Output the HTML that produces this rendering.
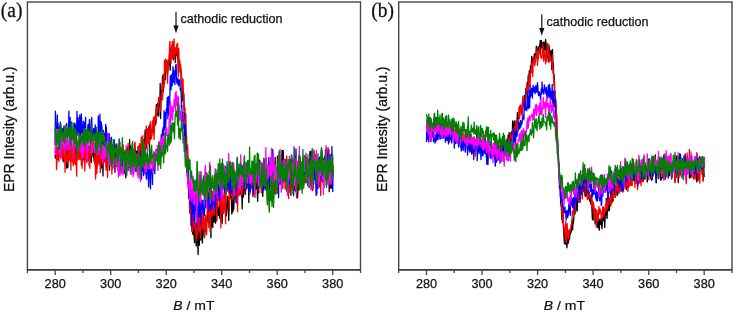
<!DOCTYPE html>
<html><head><meta charset="utf-8"><title>EPR</title>
<style>
html,body{margin:0;padding:0;background:#fff;}
svg{display:block}
text{stroke:#111;stroke-width:0.25px}
.t{font-family:"Liberation Sans",sans-serif;font-size:12.7px;fill:#111}
.an{font-family:"Liberation Sans",sans-serif;font-size:12.55px;fill:#111}
.yl{font-family:"Liberation Sans",sans-serif;font-size:13.95px;fill:#111}
.pl{font-family:"Liberation Serif",serif;font-size:19.5px;fill:#111}
</style></head><body>
<svg width="734" height="312" viewBox="0 0 734 312">
<rect width="734" height="312" fill="#fff"/>
<g>
<polyline fill="none" stroke="#000000" stroke-width="1.3" stroke-linejoin="round" points="55.0,154.6 55.4,158.2 55.8,154.5 56.2,142.2 56.5,158.8 56.9,155.4 57.3,148.0 57.7,156.4 58.1,154.8 58.5,154.2 58.9,152.3 59.3,156.1 59.6,146.5 60.0,150.8 60.4,148.5 60.8,156.6 61.2,152.4 61.6,149.9 62.0,146.3 62.3,150.2 62.7,152.2 63.1,150.1 63.5,161.9 63.9,159.7 64.3,133.5 64.7,138.1 65.1,150.9 65.4,149.1 65.8,153.9 66.2,153.9 66.6,168.2 67.0,144.0 67.4,149.5 67.8,167.7 68.2,157.3 68.5,157.4 68.9,148.6 69.3,140.1 69.7,153.8 70.1,153.3 70.5,143.3 70.9,147.5 71.2,152.1 71.6,145.5 72.0,151.9 72.4,153.4 72.8,153.0 73.2,148.9 73.6,157.2 74.0,159.5 74.3,155.2 74.7,146.7 75.1,158.4 75.5,149.2 75.9,159.6 76.3,145.0 76.7,159.9 77.0,152.9 77.4,143.7 77.8,150.8 78.2,153.6 78.6,155.2 79.0,145.9 79.4,145.0 79.8,154.8 80.1,149.8 80.5,155.1 80.9,159.1 81.3,141.1 81.7,155.4 82.1,162.7 82.5,151.3 82.8,147.5 83.2,159.3 83.6,155.6 84.0,160.5 84.4,151.2 84.8,142.7 85.2,153.0 85.6,150.6 85.9,159.8 86.3,155.4 86.7,141.8 87.1,145.1 87.5,160.7 87.9,159.3 88.3,149.4 88.7,154.2 89.0,157.6 89.4,157.8 89.8,161.0 90.2,156.3 90.6,153.8 91.0,152.6 91.4,162.5 91.7,137.7 92.1,153.6 92.5,154.9 92.9,144.1 93.3,157.3 93.7,150.0 94.1,161.4 94.5,154.0 94.8,160.0 95.2,164.2 95.6,158.0 96.0,148.6 96.4,143.9 96.8,168.4 97.2,154.5 97.5,150.3 97.9,156.6 98.3,154.2 98.7,162.1 99.1,156.1 99.5,156.1 99.9,150.7 100.3,159.7 100.6,148.6 101.0,161.4 101.4,168.0 101.8,145.3 102.2,138.3 102.6,161.6 103.0,175.9 103.3,149.7 103.7,148.0 104.1,161.9 104.5,151.3 104.9,154.0 105.3,155.3 105.7,162.0 106.1,155.1 106.4,160.4 106.8,157.1 107.2,152.2 107.6,156.3 108.0,151.7 108.4,158.9 108.8,150.6 109.2,150.9 109.5,170.1 109.9,158.9 110.3,159.0 110.7,163.3 111.1,156.4 111.5,157.9 111.9,162.9 112.2,161.9 112.6,151.1 113.0,166.1 113.4,155.5 113.8,152.0 114.2,153.2 114.6,157.1 115.0,172.2 115.3,151.2 115.7,161.2 116.1,144.0 116.5,160.0 116.9,166.7 117.3,158.2 117.7,155.2 118.0,161.7 118.4,165.2 118.8,164.9 119.2,174.7 119.6,161.4 120.0,155.4 120.4,158.8 120.8,159.2 121.1,160.5 121.5,159.4 121.9,160.9 122.3,147.0 122.7,165.8 123.1,155.2 123.5,150.6 123.8,164.2 124.2,169.2 124.6,163.0 125.0,160.4 125.4,152.2 125.8,177.8 126.2,165.6 126.6,150.4 126.9,153.0 127.3,159.5 127.7,147.1 128.1,159.9 128.5,155.1 128.9,167.7 129.3,165.6 129.6,139.6 130.0,158.6 130.4,146.0 130.8,166.4 131.2,159.3 131.6,162.0 132.0,149.8 132.4,171.4 132.7,172.8 133.1,149.5 133.5,160.2 133.9,152.3 134.3,157.0 134.7,147.6 135.1,171.0 135.5,149.6 135.8,154.5 136.2,160.2 136.6,151.4 137.0,154.2 137.4,151.5 137.8,154.4 138.2,146.2 138.5,151.3 138.9,152.7 139.3,151.3 139.7,153.8 140.1,150.7 140.5,158.0 140.9,149.4 141.3,150.3 141.6,145.8 142.0,146.3 142.4,140.1 142.8,152.9 143.2,139.8 143.6,142.2 144.0,149.8 144.3,149.5 144.7,142.8 145.1,130.0 145.5,147.6 145.9,145.7 146.3,132.5 146.7,148.2 147.1,136.5 147.4,132.6 147.8,141.0 148.2,138.3 148.6,140.4 149.0,126.1 149.4,150.9 149.8,132.0 150.1,124.1 150.5,139.4 150.9,131.1 151.3,135.3 151.7,129.3 152.1,130.4 152.5,131.6 152.9,123.1 153.2,132.7 153.6,123.0 154.0,118.8 154.4,124.8 154.8,126.3 155.2,120.0 155.6,114.0 156.0,123.8 156.3,104.7 156.7,108.8 157.1,115.5 157.5,103.6 157.9,112.6 158.3,110.6 158.7,116.1 159.0,100.8 159.4,101.1 159.8,106.4 160.2,83.5 160.6,118.6 161.0,92.5 161.4,90.2 161.8,100.0 162.1,91.1 162.5,76.0 162.9,92.0 163.3,91.7 163.7,80.1 164.1,79.6 164.5,83.6 164.8,71.3 165.2,79.7 165.6,76.2 166.0,67.9 166.4,60.9 166.8,68.0 167.2,61.5 167.6,74.0 167.9,66.1 168.3,69.4 168.7,63.2 169.1,62.9 169.5,53.7 169.9,63.2 170.3,70.1 170.6,53.0 171.0,49.6 171.4,51.5 171.8,48.0 172.2,45.3 172.6,50.9 173.0,47.1 173.4,59.8 173.7,49.1 174.1,51.8 174.5,57.1 174.9,48.5 175.3,62.5 175.7,48.1 176.1,48.0 176.5,52.6 176.8,55.8 177.2,47.5 177.6,59.1 178.0,48.4 178.4,73.0 178.8,63.8 179.2,61.7 179.5,61.9 179.9,68.1 180.3,71.8 180.7,68.2 181.1,71.7 181.5,80.1 181.9,80.7 182.3,95.0 182.6,100.1 183.0,95.5 183.4,103.0 183.8,93.7 184.2,113.0 184.6,113.0 185.0,122.4 185.3,136.8 185.7,113.7 186.1,139.4 186.5,135.4 186.9,155.4 187.3,146.5 187.7,159.5 188.1,171.6 188.4,181.9 188.8,184.4 189.2,183.7 189.6,192.9 190.0,213.2 190.4,210.3 190.8,197.9 191.1,225.7 191.5,223.7 191.9,230.5 192.3,220.3 192.7,234.0 193.1,216.6 193.5,234.6 193.9,225.3 194.2,238.3 194.6,242.6 195.0,225.7 195.4,233.2 195.8,234.4 196.2,246.0 196.6,241.1 197.0,221.4 197.3,238.2 197.7,240.9 198.1,254.5 198.5,215.7 198.9,226.8 199.3,245.3 199.7,217.6 200.0,218.7 200.4,235.5 200.8,240.1 201.2,222.4 201.6,234.1 202.0,229.3 202.4,242.9 202.8,226.9 203.1,236.4 203.5,216.7 203.9,223.4 204.3,223.8 204.7,235.9 205.1,229.8 205.5,215.9 205.8,230.0 206.2,230.5 206.6,221.1 207.0,219.2 207.4,219.4 207.8,203.8 208.2,222.5 208.6,222.5 208.9,210.9 209.3,226.8 209.7,205.0 210.1,212.9 210.5,213.2 210.9,237.7 211.3,201.0 211.6,222.4 212.0,225.9 212.4,219.7 212.8,227.5 213.2,204.9 213.6,191.6 214.0,222.0 214.4,201.7 214.7,210.1 215.1,201.1 215.5,223.2 215.9,220.9 216.3,204.5 216.7,220.5 217.1,212.2 217.5,209.1 217.8,210.7 218.2,207.7 218.6,215.6 219.0,212.1 219.4,205.0 219.8,218.3 220.2,201.5 220.5,210.3 220.9,211.2 221.3,221.5 221.7,201.1 222.1,223.5 222.5,207.2 222.9,203.1 223.3,197.9 223.6,210.2 224.0,204.4 224.4,192.4 224.8,191.8 225.2,197.2 225.6,195.6 226.0,213.1 226.3,215.6 226.7,210.1 227.1,204.6 227.5,196.3 227.9,200.7 228.3,208.7 228.7,220.6 229.1,208.1 229.4,195.9 229.8,198.6 230.2,193.1 230.6,189.8 231.0,195.3 231.4,198.6 231.8,214.0 232.1,196.4 232.5,208.5 232.9,211.9 233.3,195.5 233.7,209.5 234.1,200.7 234.5,189.7 234.9,195.7 235.2,193.0 235.6,190.3 236.0,190.2 236.4,193.0 236.8,195.3 237.2,182.9 237.6,190.5 238.0,176.4 238.3,192.2 238.7,195.1 239.1,190.6 239.5,191.4 239.9,193.8 240.3,182.1 240.7,185.6 241.0,192.1 241.4,196.2 241.8,190.4 242.2,209.1 242.6,185.4 243.0,195.0 243.4,197.1 243.8,184.2 244.1,177.7 244.5,174.1 244.9,186.0 245.3,194.4 245.7,186.5 246.1,185.4 246.5,180.2 246.8,188.5 247.2,163.7 247.6,185.1 248.0,183.1 248.4,170.1 248.8,202.4 249.2,169.6 249.6,172.3 249.9,171.0 250.3,192.1 250.7,173.6 251.1,187.8 251.5,186.9 251.9,183.8 252.3,169.1 252.6,175.4 253.0,196.6 253.4,168.9 253.8,173.0 254.2,179.1 254.6,188.1 255.0,182.8 255.4,187.3 255.7,170.1 256.1,189.0 256.5,185.3 256.9,164.8 257.3,194.3 257.7,201.3 258.1,172.2 258.5,179.9 258.8,192.6 259.2,165.1 259.6,160.1 260.0,166.6 260.4,173.5 260.8,173.2 261.2,184.5 261.5,181.2 261.9,166.5 262.3,183.9 262.7,196.4 263.1,189.8 263.5,187.7 263.9,178.2 264.3,187.4 264.6,168.5 265.0,185.0 265.4,176.8 265.8,188.5 266.2,182.0 266.6,166.8 267.0,178.6 267.3,189.1 267.7,166.1 268.1,171.6 268.5,169.5 268.9,162.3 269.3,186.2 269.7,189.5 270.1,184.5 270.4,179.0 270.8,176.0 271.2,178.8 271.6,169.2 272.0,185.0 272.4,186.4 272.8,185.3 273.1,170.9 273.5,176.8 273.9,174.3 274.3,193.3 274.7,177.6 275.1,157.4 275.5,179.6 275.9,194.0 276.2,182.3 276.6,184.1 277.0,175.8 277.4,156.2 277.8,157.7 278.2,163.1 278.6,174.0 278.9,178.2 279.3,181.9 279.7,171.8 280.1,184.4 280.5,172.2 280.9,168.1 281.3,183.2 281.7,165.9 282.0,150.4 282.4,164.4 282.8,175.6 283.2,150.3 283.6,171.1 284.0,171.3 284.4,160.6 284.8,160.0 285.1,169.9 285.5,169.1 285.9,186.6 286.3,178.0 286.7,158.9 287.1,165.9 287.5,181.1 287.8,192.7 288.2,177.9 288.6,177.1 289.0,192.2 289.4,173.8 289.8,171.0 290.2,160.2 290.6,169.0 290.9,195.2 291.3,160.0 291.7,174.0 292.1,160.1 292.5,175.1 292.9,182.4 293.3,171.4 293.6,180.8 294.0,180.7 294.4,178.0 294.8,190.4 295.2,181.2 295.6,170.6 296.0,166.9 296.4,165.3 296.7,178.1 297.1,170.3 297.5,197.8 297.9,191.4 298.3,171.3 298.7,170.2 299.1,189.8 299.4,155.0 299.8,168.9 300.2,182.5 300.6,164.3 301.0,168.6 301.4,169.8 301.8,179.6 302.2,174.5 302.5,177.0 302.9,178.9 303.3,173.4 303.7,183.9 304.1,165.9 304.5,159.0 304.9,155.6 305.3,157.1 305.6,167.6 306.0,182.9 306.4,174.6 306.8,167.0 307.2,162.4 307.6,167.6 308.0,168.8 308.3,167.3 308.7,158.8 309.1,168.1 309.5,182.6 309.9,151.5 310.3,170.3 310.7,152.0 311.1,174.4 311.4,165.3 311.8,152.2 312.2,173.5 312.6,190.3 313.0,173.6 313.4,183.8 313.8,171.8 314.1,151.4 314.5,177.2 314.9,168.4 315.3,158.2 315.7,180.0 316.1,175.2 316.5,167.2 316.9,180.8 317.2,163.8 317.6,178.6 318.0,163.1 318.4,177.5 318.8,161.5 319.2,186.8 319.6,174.7 319.9,186.2 320.3,164.2 320.7,167.6 321.1,180.4 321.5,147.8 321.9,161.8 322.3,182.2 322.7,176.7 323.0,181.7 323.4,169.1 323.8,177.6 324.2,165.0 324.6,158.7 325.0,155.6 325.4,166.7 325.8,166.7 326.1,165.9 326.5,147.7 326.9,152.6 327.3,166.9 327.7,174.8 328.1,166.4 328.5,163.5 328.8,149.5 329.2,191.7 329.6,161.3 330.0,188.4 330.4,187.2 330.8,174.7 331.2,166.4 331.6,173.3 331.9,160.8 332.3,174.5 332.7,172.0 333.1,177.2"/>
<polyline fill="none" stroke="#ff0000" stroke-width="1.3" stroke-linejoin="round" points="55.0,153.8 55.4,146.9 55.8,148.0 56.2,128.2 56.5,169.6 56.9,163.2 57.3,148.8 57.7,159.6 58.1,154.8 58.5,146.6 58.9,161.6 59.3,149.0 59.6,148.8 60.0,144.3 60.4,156.5 60.8,151.1 61.2,157.4 61.6,146.2 62.0,153.4 62.3,143.4 62.7,160.3 63.1,154.0 63.5,155.4 63.9,156.2 64.3,142.4 64.7,159.9 65.1,172.3 65.4,136.3 65.8,135.4 66.2,137.6 66.6,160.5 67.0,153.6 67.4,162.9 67.8,159.4 68.2,154.5 68.5,155.2 68.9,150.8 69.3,160.9 69.7,141.5 70.1,148.4 70.5,154.9 70.9,170.1 71.2,145.1 71.6,142.1 72.0,147.2 72.4,162.1 72.8,150.4 73.2,165.7 73.6,134.5 74.0,163.8 74.3,162.9 74.7,139.0 75.1,154.4 75.5,164.8 75.9,153.8 76.3,162.7 76.7,176.2 77.0,155.7 77.4,150.4 77.8,145.6 78.2,159.5 78.6,151.3 79.0,151.5 79.4,152.2 79.8,159.6 80.1,142.9 80.5,138.5 80.9,129.7 81.3,165.1 81.7,154.2 82.1,168.3 82.5,153.5 82.8,146.4 83.2,158.3 83.6,152.9 84.0,141.5 84.4,145.1 84.8,171.0 85.2,157.3 85.6,158.0 85.9,151.2 86.3,147.3 86.7,162.7 87.1,153.1 87.5,146.7 87.9,152.9 88.3,145.4 88.7,156.1 89.0,165.3 89.4,146.2 89.8,168.3 90.2,147.9 90.6,156.0 91.0,146.4 91.4,152.4 91.7,155.1 92.1,150.4 92.5,147.8 92.9,148.1 93.3,146.8 93.7,139.5 94.1,152.3 94.5,158.8 94.8,163.8 95.2,161.3 95.6,179.0 96.0,158.3 96.4,150.8 96.8,173.5 97.2,145.2 97.5,164.9 97.9,146.2 98.3,159.1 98.7,136.6 99.1,164.6 99.5,154.4 99.9,146.7 100.3,172.6 100.6,163.8 101.0,156.9 101.4,149.3 101.8,156.3 102.2,155.2 102.6,164.0 103.0,164.8 103.3,150.8 103.7,152.1 104.1,152.4 104.5,144.9 104.9,152.2 105.3,157.0 105.7,164.5 106.1,170.4 106.4,150.9 106.8,163.5 107.2,154.5 107.6,177.4 108.0,158.3 108.4,163.4 108.8,150.7 109.2,152.0 109.5,161.0 109.9,156.0 110.3,162.4 110.7,146.2 111.1,165.2 111.5,152.1 111.9,174.0 112.2,157.4 112.6,168.8 113.0,148.5 113.4,163.4 113.8,152.8 114.2,156.1 114.6,160.2 115.0,157.5 115.3,162.1 115.7,165.8 116.1,165.0 116.5,159.3 116.9,149.5 117.3,153.8 117.7,158.5 118.0,143.9 118.4,165.6 118.8,158.1 119.2,158.0 119.6,166.9 120.0,164.8 120.4,161.4 120.8,152.2 121.1,162.0 121.5,162.3 121.9,153.0 122.3,167.4 122.7,163.3 123.1,144.7 123.5,160.3 123.8,149.9 124.2,167.8 124.6,165.3 125.0,150.9 125.4,152.5 125.8,159.9 126.2,157.2 126.6,170.4 126.9,164.4 127.3,156.7 127.7,163.1 128.1,143.4 128.5,160.9 128.9,165.0 129.3,157.1 129.6,153.0 130.0,162.5 130.4,172.9 130.8,159.6 131.2,149.6 131.6,168.7 132.0,143.7 132.4,161.5 132.7,153.2 133.1,164.5 133.5,151.0 133.9,167.2 134.3,159.5 134.7,144.1 135.1,142.2 135.5,154.5 135.8,166.4 136.2,157.4 136.6,156.7 137.0,154.2 137.4,161.2 137.8,158.2 138.2,157.1 138.5,147.2 138.9,163.1 139.3,164.0 139.7,143.6 140.1,170.1 140.5,157.8 140.9,148.2 141.3,137.0 141.6,155.7 142.0,154.4 142.4,145.2 142.8,135.6 143.2,156.8 143.6,143.4 144.0,143.6 144.3,165.2 144.7,161.8 145.1,152.3 145.5,141.1 145.9,148.7 146.3,126.0 146.7,143.2 147.1,136.0 147.4,131.4 147.8,128.4 148.2,143.5 148.6,139.5 149.0,139.3 149.4,143.6 149.8,130.1 150.1,126.4 150.5,121.4 150.9,131.3 151.3,138.6 151.7,130.8 152.1,135.7 152.5,121.0 152.9,125.3 153.2,122.0 153.6,117.2 154.0,139.4 154.4,130.6 154.8,117.3 155.2,116.1 155.6,120.1 156.0,108.4 156.3,121.2 156.7,106.9 157.1,112.5 157.5,106.2 157.9,108.8 158.3,101.0 158.7,97.5 159.0,100.3 159.4,100.6 159.8,101.5 160.2,102.2 160.6,111.0 161.0,103.5 161.4,93.3 161.8,98.4 162.1,85.6 162.5,99.5 162.9,90.7 163.3,74.3 163.7,88.2 164.1,86.8 164.5,60.1 164.8,71.4 165.2,71.6 165.6,58.8 166.0,63.5 166.4,62.6 166.8,71.7 167.2,68.5 167.6,83.3 167.9,60.0 168.3,70.1 168.7,60.6 169.1,60.7 169.5,48.5 169.9,41.4 170.3,48.5 170.6,58.5 171.0,63.2 171.4,54.5 171.8,52.5 172.2,41.4 172.6,58.4 173.0,56.4 173.4,42.0 173.7,45.7 174.1,38.9 174.5,57.9 174.9,50.8 175.3,48.0 175.7,52.9 176.1,54.3 176.5,49.2 176.8,44.4 177.2,45.4 177.6,43.4 178.0,61.3 178.4,76.2 178.8,48.7 179.2,64.5 179.5,68.8 179.9,60.6 180.3,72.0 180.7,64.8 181.1,84.7 181.5,74.1 181.9,82.4 182.3,90.1 182.6,85.4 183.0,79.0 183.4,92.5 183.8,106.4 184.2,104.6 184.6,111.9 185.0,107.6 185.3,122.6 185.7,133.1 186.1,134.2 186.5,155.3 186.9,145.3 187.3,144.9 187.7,146.2 188.1,175.7 188.4,171.9 188.8,188.7 189.2,191.1 189.6,209.3 190.0,212.6 190.4,202.3 190.8,213.0 191.1,223.7 191.5,202.6 191.9,231.8 192.3,231.4 192.7,230.9 193.1,220.5 193.5,227.1 193.9,214.1 194.2,227.1 194.6,221.5 195.0,229.1 195.4,223.7 195.8,231.8 196.2,240.9 196.6,215.7 197.0,238.2 197.3,208.4 197.7,206.4 198.1,226.8 198.5,227.7 198.9,231.7 199.3,210.1 199.7,225.7 200.0,227.1 200.4,238.0 200.8,223.7 201.2,229.5 201.6,213.7 202.0,221.1 202.4,218.0 202.8,229.0 203.1,211.3 203.5,212.4 203.9,226.1 204.3,237.9 204.7,223.2 205.1,222.0 205.5,215.0 205.8,229.1 206.2,223.2 206.6,234.8 207.0,220.2 207.4,206.8 207.8,210.3 208.2,205.6 208.6,202.5 208.9,227.6 209.3,222.6 209.7,201.4 210.1,231.6 210.5,215.6 210.9,203.0 211.3,216.2 211.6,211.2 212.0,203.7 212.4,191.4 212.8,211.0 213.2,213.2 213.6,184.5 214.0,215.1 214.4,215.3 214.7,203.9 215.1,209.4 215.5,205.0 215.9,199.0 216.3,203.4 216.7,220.4 217.1,191.6 217.5,208.3 217.8,207.4 218.2,198.0 218.6,200.3 219.0,190.2 219.4,195.4 219.8,203.8 220.2,206.6 220.5,193.8 220.9,227.9 221.3,196.4 221.7,203.1 222.1,199.2 222.5,197.1 222.9,214.0 223.3,195.6 223.6,213.6 224.0,211.4 224.4,188.9 224.8,209.6 225.2,192.3 225.6,223.8 226.0,194.3 226.3,188.4 226.7,178.3 227.1,184.2 227.5,191.1 227.9,186.6 228.3,184.0 228.7,189.1 229.1,193.6 229.4,209.7 229.8,178.2 230.2,189.3 230.6,185.1 231.0,179.3 231.4,181.5 231.8,184.7 232.1,200.0 232.5,191.0 232.9,187.4 233.3,198.0 233.7,194.5 234.1,189.5 234.5,194.9 234.9,183.3 235.2,196.5 235.6,194.7 236.0,186.3 236.4,178.6 236.8,203.4 237.2,190.1 237.6,211.6 238.0,182.7 238.3,196.1 238.7,184.2 239.1,190.1 239.5,195.0 239.9,180.1 240.3,186.1 240.7,188.2 241.0,187.5 241.4,191.6 241.8,195.2 242.2,193.3 242.6,187.9 243.0,182.2 243.4,174.9 243.8,178.2 244.1,179.8 244.5,190.6 244.9,180.9 245.3,172.7 245.7,189.5 246.1,176.3 246.5,176.5 246.8,181.2 247.2,187.4 247.6,160.9 248.0,172.5 248.4,184.2 248.8,179.1 249.2,174.4 249.6,177.2 249.9,194.8 250.3,177.7 250.7,188.3 251.1,189.0 251.5,177.4 251.9,185.5 252.3,177.1 252.6,175.5 253.0,170.6 253.4,189.1 253.8,177.1 254.2,175.5 254.6,170.0 255.0,197.4 255.4,187.3 255.7,179.0 256.1,173.6 256.5,165.6 256.9,182.7 257.3,182.5 257.7,166.4 258.1,190.6 258.5,186.9 258.8,170.2 259.2,174.0 259.6,175.1 260.0,180.6 260.4,177.6 260.8,163.2 261.2,192.9 261.5,181.7 261.9,190.7 262.3,190.6 262.7,176.4 263.1,181.6 263.5,185.3 263.9,185.6 264.3,176.4 264.6,171.9 265.0,178.2 265.4,170.0 265.8,172.3 266.2,157.8 266.6,178.3 267.0,167.4 267.3,171.9 267.7,176.7 268.1,180.2 268.5,195.5 268.9,179.0 269.3,163.1 269.7,178.1 270.1,170.9 270.4,180.6 270.8,169.9 271.2,169.6 271.6,171.5 272.0,170.3 272.4,158.5 272.8,169.7 273.1,176.0 273.5,187.8 273.9,173.2 274.3,172.3 274.7,181.5 275.1,181.1 275.5,191.4 275.9,181.4 276.2,175.4 276.6,188.6 277.0,190.4 277.4,170.8 277.8,176.9 278.2,158.9 278.6,171.7 278.9,166.6 279.3,173.1 279.7,170.4 280.1,173.4 280.5,174.0 280.9,179.8 281.3,177.2 281.7,169.4 282.0,162.2 282.4,186.8 282.8,188.5 283.2,170.2 283.6,180.1 284.0,159.7 284.4,159.3 284.8,171.9 285.1,188.8 285.5,164.2 285.9,166.2 286.3,190.0 286.7,155.8 287.1,180.5 287.5,179.0 287.8,172.2 288.2,176.0 288.6,198.5 289.0,163.1 289.4,171.0 289.8,171.7 290.2,167.3 290.6,160.9 290.9,189.5 291.3,176.0 291.7,156.7 292.1,167.0 292.5,177.8 292.9,177.7 293.3,159.7 293.6,172.8 294.0,176.2 294.4,177.5 294.8,177.5 295.2,155.8 295.6,191.6 296.0,175.6 296.4,191.1 296.7,197.9 297.1,171.9 297.5,161.4 297.9,181.8 298.3,171.6 298.7,169.0 299.1,163.3 299.4,189.8 299.8,169.0 300.2,159.6 300.6,168.9 301.0,161.9 301.4,174.7 301.8,169.1 302.2,162.8 302.5,179.0 302.9,166.8 303.3,180.1 303.7,185.3 304.1,169.5 304.5,166.7 304.9,174.9 305.3,181.6 305.6,172.9 306.0,174.3 306.4,172.6 306.8,175.9 307.2,179.0 307.6,165.9 308.0,168.1 308.3,173.2 308.7,166.2 309.1,174.0 309.5,177.9 309.9,172.5 310.3,166.8 310.7,165.1 311.1,189.7 311.4,181.2 311.8,161.7 312.2,164.4 312.6,190.8 313.0,187.3 313.4,173.8 313.8,183.8 314.1,158.0 314.5,172.5 314.9,179.7 315.3,154.3 315.7,164.8 316.1,180.0 316.5,183.4 316.9,166.6 317.2,175.2 317.6,187.9 318.0,168.6 318.4,159.3 318.8,171.7 319.2,168.4 319.6,184.9 319.9,173.8 320.3,164.4 320.7,195.6 321.1,167.3 321.5,176.8 321.9,178.8 322.3,179.8 322.7,173.8 323.0,177.9 323.4,171.5 323.8,158.3 324.2,170.0 324.6,170.2 325.0,170.4 325.4,173.4 325.8,166.0 326.1,185.0 326.5,187.3 326.9,150.6 327.3,172.1 327.7,165.1 328.1,147.7 328.5,176.0 328.8,166.0 329.2,168.4 329.6,165.7 330.0,182.6 330.4,184.1 330.8,174.7 331.2,178.8 331.6,170.9 331.9,173.4 332.3,164.8 332.7,172.3 333.1,165.0"/>
<polyline fill="none" stroke="#0000ff" stroke-width="1.3" stroke-linejoin="round" points="55.0,145.3 55.4,111.2 55.8,133.1 56.2,125.7 56.5,126.6 56.9,128.4 57.3,114.9 57.7,128.3 58.1,123.5 58.5,148.8 58.9,131.7 59.3,127.4 59.6,127.9 60.0,125.0 60.4,122.1 60.8,127.1 61.2,133.6 61.6,128.2 62.0,137.2 62.3,128.5 62.7,130.2 63.1,141.6 63.5,134.1 63.9,126.2 64.3,128.6 64.7,134.1 65.1,144.5 65.4,128.0 65.8,128.2 66.2,137.5 66.6,123.4 67.0,127.8 67.4,136.6 67.8,134.4 68.2,130.7 68.5,135.0 68.9,111.2 69.3,137.7 69.7,122.8 70.1,117.5 70.5,132.1 70.9,135.3 71.2,126.7 71.6,121.9 72.0,130.2 72.4,129.6 72.8,140.5 73.2,135.6 73.6,131.5 74.0,138.3 74.3,128.5 74.7,123.1 75.1,134.4 75.5,134.4 75.9,128.4 76.3,124.1 76.7,131.7 77.0,111.3 77.4,135.2 77.8,133.7 78.2,117.7 78.6,130.5 79.0,122.8 79.4,135.7 79.8,114.8 80.1,123.2 80.5,135.4 80.9,138.7 81.3,113.9 81.7,126.3 82.1,132.5 82.5,125.5 82.8,142.0 83.2,121.2 83.6,132.8 84.0,122.3 84.4,140.7 84.8,130.0 85.2,127.4 85.6,117.3 85.9,142.8 86.3,135.9 86.7,135.9 87.1,138.8 87.5,132.9 87.9,125.5 88.3,124.3 88.7,124.3 89.0,140.6 89.4,119.4 89.8,125.9 90.2,128.0 90.6,132.1 91.0,134.8 91.4,121.1 91.7,117.5 92.1,130.5 92.5,139.7 92.9,136.3 93.3,132.3 93.7,128.3 94.1,132.9 94.5,128.9 94.8,136.9 95.2,124.8 95.6,131.8 96.0,130.0 96.4,135.0 96.8,132.6 97.2,149.7 97.5,142.3 97.9,142.3 98.3,115.8 98.7,128.6 99.1,126.6 99.5,135.2 99.9,114.2 100.3,140.1 100.6,139.4 101.0,121.7 101.4,124.1 101.8,125.5 102.2,131.9 102.6,136.4 103.0,147.1 103.3,130.3 103.7,137.6 104.1,133.0 104.5,145.1 104.9,137.5 105.3,142.4 105.7,124.3 106.1,131.4 106.4,127.4 106.8,145.5 107.2,140.1 107.6,133.8 108.0,133.8 108.4,141.9 108.8,134.2 109.2,133.7 109.5,145.5 109.9,161.5 110.3,142.4 110.7,141.2 111.1,137.6 111.5,137.3 111.9,152.1 112.2,155.3 112.6,149.6 113.0,152.5 113.4,151.3 113.8,151.8 114.2,139.6 114.6,148.0 115.0,152.6 115.3,146.2 115.7,148.8 116.1,146.5 116.5,150.4 116.9,159.5 117.3,150.4 117.7,152.5 118.0,160.0 118.4,159.0 118.8,167.0 119.2,138.9 119.6,161.2 120.0,151.3 120.4,156.2 120.8,161.6 121.1,163.6 121.5,163.5 121.9,157.0 122.3,168.1 122.7,154.1 123.1,155.3 123.5,162.5 123.8,152.5 124.2,173.0 124.6,164.6 125.0,173.5 125.4,157.1 125.8,154.6 126.2,158.8 126.6,163.3 126.9,153.5 127.3,160.9 127.7,158.1 128.1,170.5 128.5,153.6 128.9,166.5 129.3,154.0 129.6,151.8 130.0,153.9 130.4,150.5 130.8,160.7 131.2,167.5 131.6,161.2 132.0,164.8 132.4,172.6 132.7,162.6 133.1,162.3 133.5,159.0 133.9,149.2 134.3,167.2 134.7,148.6 135.1,166.9 135.5,162.2 135.8,171.1 136.2,162.5 136.6,157.2 137.0,166.5 137.4,160.0 137.8,163.3 138.2,165.4 138.5,164.5 138.9,164.6 139.3,160.2 139.7,165.5 140.1,151.4 140.5,166.7 140.9,159.4 141.3,177.2 141.6,178.8 142.0,155.1 142.4,171.3 142.8,169.7 143.2,163.2 143.6,175.5 144.0,168.4 144.3,159.0 144.7,170.5 145.1,171.7 145.5,173.9 145.9,164.1 146.3,178.2 146.7,179.2 147.1,165.3 147.4,169.0 147.8,173.4 148.2,169.7 148.6,186.9 149.0,175.2 149.4,165.7 149.8,166.9 150.1,171.9 150.5,188.9 150.9,169.6 151.3,171.1 151.7,173.1 152.1,168.1 152.5,184.5 152.9,162.3 153.2,170.8 153.6,165.3 154.0,167.6 154.4,152.9 154.8,173.7 155.2,158.3 155.6,158.2 156.0,149.7 156.3,149.9 156.7,158.3 157.1,160.2 157.5,157.2 157.9,159.4 158.3,154.5 158.7,148.0 159.0,152.7 159.4,149.5 159.8,142.8 160.2,147.4 160.6,150.0 161.0,140.5 161.4,134.4 161.8,140.7 162.1,147.8 162.5,130.2 162.9,129.3 163.3,127.1 163.7,135.4 164.1,110.6 164.5,125.2 164.8,129.5 165.2,112.6 165.6,127.9 166.0,118.9 166.4,108.8 166.8,112.6 167.2,97.7 167.6,103.0 167.9,118.9 168.3,96.4 168.7,114.8 169.1,98.2 169.5,104.2 169.9,94.9 170.3,75.7 170.6,86.1 171.0,89.9 171.4,78.0 171.8,74.7 172.2,85.9 172.6,76.4 173.0,66.7 173.4,72.4 173.7,82.3 174.1,70.9 174.5,80.5 174.9,84.5 175.3,73.3 175.7,65.1 176.1,64.5 176.5,75.1 176.8,83.1 177.2,80.0 177.6,83.7 178.0,78.1 178.4,85.6 178.8,81.8 179.2,85.0 179.5,79.8 179.9,79.8 180.3,90.2 180.7,88.1 181.1,92.1 181.5,107.5 181.9,105.1 182.3,128.4 182.6,120.4 183.0,112.7 183.4,127.5 183.8,128.5 184.2,125.0 184.6,142.7 185.0,132.9 185.3,124.2 185.7,153.2 186.1,146.6 186.5,167.4 186.9,155.5 187.3,156.1 187.7,183.9 188.1,166.9 188.4,182.8 188.8,198.5 189.2,190.4 189.6,191.8 190.0,195.9 190.4,204.9 190.8,190.5 191.1,206.3 191.5,207.6 191.9,226.9 192.3,201.3 192.7,196.8 193.1,214.7 193.5,204.4 193.9,212.3 194.2,211.5 194.6,222.7 195.0,204.8 195.4,210.8 195.8,186.7 196.2,203.0 196.6,227.5 197.0,204.8 197.3,204.4 197.7,198.9 198.1,216.7 198.5,212.2 198.9,198.0 199.3,216.2 199.7,211.6 200.0,216.0 200.4,201.3 200.8,224.7 201.2,210.7 201.6,204.7 202.0,200.0 202.4,202.1 202.8,212.7 203.1,200.7 203.5,213.8 203.9,208.2 204.3,215.4 204.7,209.6 205.1,200.3 205.5,181.2 205.8,203.2 206.2,207.7 206.6,201.0 207.0,204.6 207.4,193.8 207.8,194.3 208.2,188.2 208.6,211.1 208.9,198.6 209.3,191.6 209.7,182.7 210.1,194.2 210.5,210.0 210.9,199.7 211.3,187.3 211.6,208.7 212.0,208.4 212.4,203.5 212.8,201.1 213.2,204.5 213.6,197.9 214.0,199.9 214.4,183.8 214.7,206.5 215.1,193.3 215.5,211.2 215.9,169.6 216.3,197.1 216.7,199.6 217.1,185.9 217.5,193.6 217.8,196.3 218.2,194.2 218.6,182.6 219.0,186.3 219.4,197.8 219.8,200.1 220.2,187.9 220.5,187.4 220.9,188.4 221.3,196.6 221.7,175.2 222.1,172.2 222.5,186.6 222.9,173.9 223.3,179.0 223.6,185.6 224.0,189.4 224.4,173.4 224.8,192.2 225.2,166.0 225.6,189.3 226.0,167.6 226.3,170.5 226.7,189.7 227.1,178.9 227.5,174.9 227.9,178.2 228.3,187.1 228.7,181.8 229.1,181.9 229.4,192.4 229.8,174.8 230.2,177.0 230.6,176.4 231.0,192.7 231.4,190.8 231.8,193.4 232.1,180.5 232.5,179.2 232.9,188.7 233.3,176.7 233.7,188.1 234.1,186.9 234.5,173.4 234.9,179.0 235.2,178.6 235.6,195.5 236.0,202.4 236.4,178.3 236.8,179.3 237.2,158.2 237.6,180.8 238.0,178.7 238.3,168.9 238.7,185.6 239.1,164.3 239.5,176.3 239.9,179.4 240.3,166.8 240.7,185.6 241.0,187.3 241.4,165.2 241.8,164.9 242.2,182.9 242.6,177.1 243.0,166.4 243.4,174.5 243.8,176.1 244.1,175.7 244.5,184.4 244.9,180.3 245.3,192.8 245.7,189.1 246.1,182.8 246.5,186.3 246.8,188.5 247.2,182.8 247.6,165.2 248.0,184.1 248.4,176.9 248.8,191.0 249.2,177.0 249.6,180.9 249.9,179.0 250.3,191.4 250.7,177.6 251.1,173.4 251.5,178.7 251.9,171.7 252.3,177.2 252.6,175.6 253.0,178.2 253.4,193.5 253.8,171.8 254.2,175.9 254.6,173.6 255.0,181.7 255.4,164.3 255.7,168.8 256.1,174.9 256.5,180.4 256.9,174.8 257.3,170.5 257.7,166.9 258.1,180.0 258.5,188.8 258.8,178.1 259.2,176.8 259.6,179.2 260.0,165.9 260.4,171.9 260.8,172.3 261.2,177.6 261.5,174.4 261.9,163.0 262.3,185.5 262.7,190.9 263.1,172.1 263.5,178.4 263.9,177.1 264.3,182.1 264.6,160.1 265.0,190.0 265.4,169.8 265.8,186.6 266.2,175.1 266.6,170.5 267.0,172.9 267.3,182.9 267.7,165.7 268.1,170.5 268.5,169.4 268.9,157.3 269.3,186.7 269.7,179.6 270.1,173.7 270.4,185.2 270.8,164.5 271.2,173.1 271.6,190.6 272.0,183.3 272.4,152.0 272.8,149.3 273.1,163.5 273.5,184.0 273.9,169.0 274.3,171.4 274.7,179.5 275.1,164.9 275.5,175.5 275.9,181.2 276.2,178.0 276.6,177.2 277.0,167.5 277.4,178.3 277.8,169.1 278.2,186.0 278.6,197.6 278.9,166.0 279.3,152.0 279.7,169.0 280.1,176.8 280.5,183.3 280.9,183.6 281.3,165.4 281.7,165.2 282.0,185.3 282.4,162.3 282.8,183.5 283.2,170.6 283.6,180.3 284.0,179.7 284.4,180.4 284.8,180.7 285.1,163.1 285.5,175.6 285.9,172.8 286.3,175.6 286.7,184.6 287.1,169.9 287.5,165.6 287.8,165.4 288.2,169.5 288.6,179.8 289.0,164.5 289.4,183.7 289.8,175.2 290.2,170.2 290.6,159.4 290.9,174.7 291.3,179.1 291.7,155.1 292.1,183.9 292.5,188.3 292.9,175.5 293.3,177.0 293.6,195.7 294.0,184.2 294.4,163.4 294.8,171.9 295.2,170.6 295.6,170.6 296.0,149.0 296.4,179.4 296.7,165.8 297.1,173.6 297.5,170.6 297.9,180.4 298.3,169.0 298.7,164.1 299.1,177.1 299.4,185.6 299.8,168.7 300.2,185.2 300.6,174.4 301.0,166.6 301.4,186.6 301.8,163.8 302.2,181.6 302.5,166.9 302.9,176.1 303.3,159.6 303.7,163.5 304.1,182.0 304.5,173.5 304.9,172.0 305.3,167.3 305.6,175.9 306.0,157.9 306.4,160.6 306.8,170.0 307.2,163.4 307.6,164.7 308.0,170.8 308.3,170.1 308.7,169.3 309.1,187.7 309.5,181.3 309.9,183.4 310.3,171.1 310.7,166.5 311.1,157.2 311.4,168.0 311.8,151.0 312.2,165.6 312.6,178.8 313.0,187.1 313.4,180.7 313.8,162.9 314.1,176.1 314.5,163.6 314.9,179.3 315.3,170.2 315.7,179.6 316.1,195.6 316.5,180.2 316.9,193.9 317.2,172.9 317.6,168.0 318.0,184.2 318.4,188.0 318.8,165.7 319.2,171.9 319.6,157.2 319.9,169.2 320.3,179.8 320.7,170.3 321.1,165.6 321.5,157.4 321.9,174.7 322.3,178.9 322.7,176.9 323.0,173.6 323.4,158.7 323.8,188.2 324.2,170.5 324.6,169.6 325.0,178.2 325.4,150.0 325.8,170.4 326.1,169.7 326.5,174.7 326.9,184.2 327.3,175.6 327.7,153.2 328.1,167.7 328.5,173.0 328.8,172.4 329.2,158.5 329.6,154.8 330.0,176.4 330.4,174.4 330.8,170.8 331.2,154.2 331.6,188.3 331.9,146.6 332.3,167.5 332.7,191.4 333.1,169.5"/>
<polyline fill="none" stroke="#ff00ff" stroke-width="1.3" stroke-linejoin="round" points="55.0,137.1 55.4,140.7 55.8,154.5 56.2,146.9 56.5,129.7 56.9,142.0 57.3,137.3 57.7,143.1 58.1,130.0 58.5,143.8 58.9,143.8 59.3,153.9 59.6,144.4 60.0,145.9 60.4,130.9 60.8,159.0 61.2,127.7 61.6,150.4 62.0,139.6 62.3,135.5 62.7,137.2 63.1,137.1 63.5,145.0 63.9,141.3 64.3,153.3 64.7,128.5 65.1,142.2 65.4,135.5 65.8,148.1 66.2,126.4 66.6,139.7 67.0,143.9 67.4,131.2 67.8,149.7 68.2,143.7 68.5,149.9 68.9,149.6 69.3,135.0 69.7,136.4 70.1,140.9 70.5,148.1 70.9,148.9 71.2,137.2 71.6,138.0 72.0,136.6 72.4,138.2 72.8,140.8 73.2,141.6 73.6,158.1 74.0,138.8 74.3,140.5 74.7,146.1 75.1,135.6 75.5,140.0 75.9,142.9 76.3,148.6 76.7,132.9 77.0,153.1 77.4,140.2 77.8,144.1 78.2,149.2 78.6,147.9 79.0,150.9 79.4,144.3 79.8,142.8 80.1,145.4 80.5,135.6 80.9,152.2 81.3,137.3 81.7,133.6 82.1,158.5 82.5,142.1 82.8,134.3 83.2,157.1 83.6,140.7 84.0,151.2 84.4,137.0 84.8,141.4 85.2,130.7 85.6,129.0 85.9,136.0 86.3,142.8 86.7,149.4 87.1,161.6 87.5,135.7 87.9,151.1 88.3,139.0 88.7,142.4 89.0,132.5 89.4,132.5 89.8,137.8 90.2,134.8 90.6,143.7 91.0,138.5 91.4,153.2 91.7,145.0 92.1,145.1 92.5,152.5 92.9,147.9 93.3,143.7 93.7,143.4 94.1,143.2 94.5,152.2 94.8,150.1 95.2,147.0 95.6,150.3 96.0,140.3 96.4,148.3 96.8,133.9 97.2,154.7 97.5,145.3 97.9,146.1 98.3,149.2 98.7,144.7 99.1,143.0 99.5,153.9 99.9,145.9 100.3,138.3 100.6,148.5 101.0,132.5 101.4,157.8 101.8,144.2 102.2,145.9 102.6,162.6 103.0,161.9 103.3,146.7 103.7,150.6 104.1,154.2 104.5,158.9 104.9,145.6 105.3,148.0 105.7,156.7 106.1,150.2 106.4,154.5 106.8,154.2 107.2,141.9 107.6,144.8 108.0,133.4 108.4,151.1 108.8,163.9 109.2,146.5 109.5,164.9 109.9,164.0 110.3,156.9 110.7,158.0 111.1,159.4 111.5,153.0 111.9,157.9 112.2,160.1 112.6,165.4 113.0,166.9 113.4,155.6 113.8,167.5 114.2,155.7 114.6,160.4 115.0,164.6 115.3,161.8 115.7,161.1 116.1,164.2 116.5,158.2 116.9,157.6 117.3,161.0 117.7,169.9 118.0,162.0 118.4,177.2 118.8,164.6 119.2,144.3 119.6,159.9 120.0,175.7 120.4,163.4 120.8,160.1 121.1,156.9 121.5,173.5 121.9,171.1 122.3,168.7 122.7,166.9 123.1,174.6 123.5,170.0 123.8,154.6 124.2,169.7 124.6,165.2 125.0,163.2 125.4,169.8 125.8,164.3 126.2,145.4 126.6,175.8 126.9,172.0 127.3,163.3 127.7,161.5 128.1,166.0 128.5,154.7 128.9,166.7 129.3,162.7 129.6,161.8 130.0,157.6 130.4,159.4 130.8,172.9 131.2,174.6 131.6,168.4 132.0,164.3 132.4,158.1 132.7,170.1 133.1,176.8 133.5,152.7 133.9,173.6 134.3,148.6 134.7,162.3 135.1,167.7 135.5,154.6 135.8,153.5 136.2,166.3 136.6,171.5 137.0,161.4 137.4,175.0 137.8,159.1 138.2,178.1 138.5,165.9 138.9,166.8 139.3,169.6 139.7,167.4 140.1,178.8 140.5,181.5 140.9,169.0 141.3,163.7 141.6,156.0 142.0,159.1 142.4,164.7 142.8,163.7 143.2,164.0 143.6,164.2 144.0,167.8 144.3,153.7 144.7,156.0 145.1,171.8 145.5,169.5 145.9,158.9 146.3,172.4 146.7,157.4 147.1,160.3 147.4,148.2 147.8,168.0 148.2,161.2 148.6,169.0 149.0,166.0 149.4,161.1 149.8,161.2 150.1,168.7 150.5,158.1 150.9,157.9 151.3,159.2 151.7,164.4 152.1,164.9 152.5,172.0 152.9,156.7 153.2,166.4 153.6,151.7 154.0,160.7 154.4,156.8 154.8,168.5 155.2,159.7 155.6,151.4 156.0,158.6 156.3,156.5 156.7,151.0 157.1,150.7 157.5,145.3 157.9,170.3 158.3,152.4 158.7,158.1 159.0,141.4 159.4,141.4 159.8,147.8 160.2,147.1 160.6,153.6 161.0,139.4 161.4,150.2 161.8,156.8 162.1,137.8 162.5,150.7 162.9,135.9 163.3,144.8 163.7,144.1 164.1,153.6 164.5,134.5 164.8,140.0 165.2,145.6 165.6,127.9 166.0,135.4 166.4,127.6 166.8,127.4 167.2,136.3 167.6,134.8 167.9,146.3 168.3,136.6 168.7,134.2 169.1,121.6 169.5,119.0 169.9,120.6 170.3,101.0 170.6,129.0 171.0,110.2 171.4,106.0 171.8,109.4 172.2,118.4 172.6,120.1 173.0,106.9 173.4,112.0 173.7,107.3 174.1,99.2 174.5,107.1 174.9,105.2 175.3,92.8 175.7,112.0 176.1,91.6 176.5,105.0 176.8,95.4 177.2,97.5 177.6,99.0 178.0,110.4 178.4,96.8 178.8,106.1 179.2,120.6 179.5,105.4 179.9,112.0 180.3,119.0 180.7,111.4 181.1,121.1 181.5,114.8 181.9,127.6 182.3,125.9 182.6,121.8 183.0,142.9 183.4,135.4 183.8,137.9 184.2,136.9 184.6,144.2 185.0,150.7 185.3,156.2 185.7,166.4 186.1,150.9 186.5,161.1 186.9,176.2 187.3,171.0 187.7,175.7 188.1,188.6 188.4,180.4 188.8,183.9 189.2,181.4 189.6,200.2 190.0,195.2 190.4,179.3 190.8,193.1 191.1,177.4 191.5,201.0 191.9,198.0 192.3,190.7 192.7,189.3 193.1,176.1 193.5,202.9 193.9,194.7 194.2,193.4 194.6,204.5 195.0,190.8 195.4,191.9 195.8,191.0 196.2,184.3 196.6,222.4 197.0,195.9 197.3,194.1 197.7,206.6 198.1,172.0 198.5,196.7 198.9,196.8 199.3,186.5 199.7,200.7 200.0,175.1 200.4,195.3 200.8,203.7 201.2,171.7 201.6,179.1 202.0,191.6 202.4,192.5 202.8,185.6 203.1,195.3 203.5,193.6 203.9,177.0 204.3,189.3 204.7,177.0 205.1,168.5 205.5,165.4 205.8,199.3 206.2,187.2 206.6,208.0 207.0,173.1 207.4,184.0 207.8,190.8 208.2,185.6 208.6,191.9 208.9,188.0 209.3,180.0 209.7,162.4 210.1,176.2 210.5,203.0 210.9,193.1 211.3,199.0 211.6,178.9 212.0,182.7 212.4,175.5 212.8,188.1 213.2,184.6 213.6,188.3 214.0,201.3 214.4,174.8 214.7,190.5 215.1,168.6 215.5,193.7 215.9,177.9 216.3,181.4 216.7,183.2 217.1,198.3 217.5,181.1 217.8,176.1 218.2,169.0 218.6,183.5 219.0,171.9 219.4,175.2 219.8,179.8 220.2,186.7 220.5,172.5 220.9,186.3 221.3,197.2 221.7,164.0 222.1,192.7 222.5,200.6 222.9,172.6 223.3,184.7 223.6,164.4 224.0,181.6 224.4,174.7 224.8,180.9 225.2,168.4 225.6,169.2 226.0,172.9 226.3,170.1 226.7,170.9 227.1,174.9 227.5,165.6 227.9,175.2 228.3,181.3 228.7,153.3 229.1,178.2 229.4,168.7 229.8,164.9 230.2,162.6 230.6,167.3 231.0,168.2 231.4,178.7 231.8,163.0 232.1,185.1 232.5,167.1 232.9,181.4 233.3,185.1 233.7,163.2 234.1,184.7 234.5,195.1 234.9,170.5 235.2,180.1 235.6,173.5 236.0,175.4 236.4,172.9 236.8,170.0 237.2,181.2 237.6,182.6 238.0,174.5 238.3,188.2 238.7,184.3 239.1,180.7 239.5,167.9 239.9,191.4 240.3,186.1 240.7,154.8 241.0,164.1 241.4,169.7 241.8,182.4 242.2,185.1 242.6,171.3 243.0,176.0 243.4,180.1 243.8,162.2 244.1,179.0 244.5,170.8 244.9,175.2 245.3,173.1 245.7,162.7 246.1,164.4 246.5,173.7 246.8,174.5 247.2,170.9 247.6,182.9 248.0,169.9 248.4,162.0 248.8,169.9 249.2,171.5 249.6,171.8 249.9,183.7 250.3,177.7 250.7,182.7 251.1,178.7 251.5,171.4 251.9,182.5 252.3,170.4 252.6,175.1 253.0,163.5 253.4,173.7 253.8,169.7 254.2,176.2 254.6,189.7 255.0,194.9 255.4,182.3 255.7,172.4 256.1,180.4 256.5,174.8 256.9,166.9 257.3,172.0 257.7,170.2 258.1,166.8 258.5,185.6 258.8,167.3 259.2,167.7 259.6,179.1 260.0,165.8 260.4,161.4 260.8,164.2 261.2,177.0 261.5,175.9 261.9,175.2 262.3,167.8 262.7,163.5 263.1,181.0 263.5,158.3 263.9,170.1 264.3,159.4 264.6,168.2 265.0,170.7 265.4,184.0 265.8,147.7 266.2,185.4 266.6,163.5 267.0,174.9 267.3,179.9 267.7,164.6 268.1,171.2 268.5,176.8 268.9,170.8 269.3,164.8 269.7,173.8 270.1,173.0 270.4,157.3 270.8,185.2 271.2,174.1 271.6,148.3 272.0,163.8 272.4,188.7 272.8,187.4 273.1,174.5 273.5,155.4 273.9,169.5 274.3,182.2 274.7,175.7 275.1,168.6 275.5,164.6 275.9,179.8 276.2,169.7 276.6,174.9 277.0,176.5 277.4,187.7 277.8,173.5 278.2,174.2 278.6,154.3 278.9,182.5 279.3,180.3 279.7,171.5 280.1,149.5 280.5,166.1 280.9,172.3 281.3,192.0 281.7,177.3 282.0,179.3 282.4,179.5 282.8,184.5 283.2,160.4 283.6,163.1 284.0,159.9 284.4,168.6 284.8,167.9 285.1,172.3 285.5,161.3 285.9,172.2 286.3,162.9 286.7,191.9 287.1,166.1 287.5,195.3 287.8,187.2 288.2,159.5 288.6,180.5 289.0,177.1 289.4,156.1 289.8,177.1 290.2,170.2 290.6,174.5 290.9,162.7 291.3,170.4 291.7,175.1 292.1,169.2 292.5,165.1 292.9,169.4 293.3,161.4 293.6,174.3 294.0,146.3 294.4,185.6 294.8,171.5 295.2,175.5 295.6,179.2 296.0,158.7 296.4,193.1 296.7,159.9 297.1,175.4 297.5,174.0 297.9,183.6 298.3,170.7 298.7,157.0 299.1,173.9 299.4,146.6 299.8,168.7 300.2,166.2 300.6,185.9 301.0,167.9 301.4,166.2 301.8,163.2 302.2,162.2 302.5,165.2 302.9,176.4 303.3,157.6 303.7,168.5 304.1,156.2 304.5,168.8 304.9,172.0 305.3,158.4 305.6,164.8 306.0,171.4 306.4,177.9 306.8,179.6 307.2,169.2 307.6,160.5 308.0,154.4 308.3,177.9 308.7,183.9 309.1,173.8 309.5,185.5 309.9,165.8 310.3,166.4 310.7,185.6 311.1,160.3 311.4,176.1 311.8,174.0 312.2,171.7 312.6,187.1 313.0,161.6 313.4,166.0 313.8,149.7 314.1,159.9 314.5,165.1 314.9,166.3 315.3,168.1 315.7,173.0 316.1,163.6 316.5,150.7 316.9,171.6 317.2,174.2 317.6,158.7 318.0,162.4 318.4,187.3 318.8,180.1 319.2,180.7 319.6,176.6 319.9,171.5 320.3,165.1 320.7,175.7 321.1,168.1 321.5,165.7 321.9,169.9 322.3,169.2 322.7,178.8 323.0,160.6 323.4,194.4 323.8,160.1 324.2,165.8 324.6,179.3 325.0,161.8 325.4,165.3 325.8,170.3 326.1,145.6 326.5,165.0 326.9,160.5 327.3,167.6 327.7,174.9 328.1,176.3 328.5,184.7 328.8,184.2 329.2,180.2 329.6,169.6 330.0,180.3 330.4,160.2 330.8,169.1 331.2,184.2 331.6,177.8 331.9,156.3 332.3,164.2 332.7,178.9 333.1,176.1"/>
<polyline fill="none" stroke="#008000" stroke-width="1.3" stroke-linejoin="round" points="55.0,131.0 55.4,127.1 55.8,135.2 56.2,140.2 56.5,145.6 56.9,137.9 57.3,133.0 57.7,131.2 58.1,142.8 58.5,149.4 58.9,139.2 59.3,127.9 59.6,130.0 60.0,149.2 60.4,138.8 60.8,124.3 61.2,136.6 61.6,128.6 62.0,132.6 62.3,133.7 62.7,132.0 63.1,141.5 63.5,136.9 63.9,133.0 64.3,140.5 64.7,143.7 65.1,125.1 65.4,135.6 65.8,130.1 66.2,136.2 66.6,127.9 67.0,137.7 67.4,137.3 67.8,135.3 68.2,129.8 68.5,134.7 68.9,129.5 69.3,127.5 69.7,139.4 70.1,129.4 70.5,146.5 70.9,143.1 71.2,122.8 71.6,139.9 72.0,129.6 72.4,138.1 72.8,138.2 73.2,123.0 73.6,136.2 74.0,136.0 74.3,145.2 74.7,129.1 75.1,143.5 75.5,129.8 75.9,135.6 76.3,131.8 76.7,149.0 77.0,142.4 77.4,156.4 77.8,143.0 78.2,144.5 78.6,144.5 79.0,133.6 79.4,137.7 79.8,148.4 80.1,135.3 80.5,139.7 80.9,138.1 81.3,142.9 81.7,135.6 82.1,137.2 82.5,140.2 82.8,139.1 83.2,131.9 83.6,145.1 84.0,128.7 84.4,129.4 84.8,128.8 85.2,145.7 85.6,135.8 85.9,131.2 86.3,130.0 86.7,141.7 87.1,130.6 87.5,129.0 87.9,143.2 88.3,129.6 88.7,136.2 89.0,138.6 89.4,135.3 89.8,138.3 90.2,148.7 90.6,134.8 91.0,129.3 91.4,125.0 91.7,137.2 92.1,136.1 92.5,140.8 92.9,135.4 93.3,135.3 93.7,133.5 94.1,135.0 94.5,140.1 94.8,136.1 95.2,139.8 95.6,153.3 96.0,142.7 96.4,127.3 96.8,152.1 97.2,141.8 97.5,132.1 97.9,146.0 98.3,139.4 98.7,134.7 99.1,134.6 99.5,131.9 99.9,139.8 100.3,147.5 100.6,137.1 101.0,142.7 101.4,153.7 101.8,130.6 102.2,141.7 102.6,137.5 103.0,131.9 103.3,132.2 103.7,139.8 104.1,143.3 104.5,136.2 104.9,140.8 105.3,146.2 105.7,143.5 106.1,148.3 106.4,145.8 106.8,146.6 107.2,157.4 107.6,149.1 108.0,146.1 108.4,151.3 108.8,139.8 109.2,145.0 109.5,154.2 109.9,153.7 110.3,161.3 110.7,150.5 111.1,140.0 111.5,166.2 111.9,160.3 112.2,144.5 112.6,163.1 113.0,153.3 113.4,139.6 113.8,150.2 114.2,149.7 114.6,165.6 115.0,147.8 115.3,152.0 115.7,152.0 116.1,151.3 116.5,147.4 116.9,156.0 117.3,162.6 117.7,159.3 118.0,147.7 118.4,146.1 118.8,155.7 119.2,149.6 119.6,150.3 120.0,142.5 120.4,169.8 120.8,162.1 121.1,148.0 121.5,162.2 121.9,165.5 122.3,137.6 122.7,151.5 123.1,152.8 123.5,160.6 123.8,154.9 124.2,154.1 124.6,155.5 125.0,169.9 125.4,172.3 125.8,152.2 126.2,149.3 126.6,175.0 126.9,149.0 127.3,152.1 127.7,156.8 128.1,160.2 128.5,164.4 128.9,159.6 129.3,150.2 129.6,160.6 130.0,158.8 130.4,171.1 130.8,156.9 131.2,147.1 131.6,149.3 132.0,168.1 132.4,153.3 132.7,141.6 133.1,153.1 133.5,157.5 133.9,166.5 134.3,150.0 134.7,162.6 135.1,163.6 135.5,152.5 135.8,156.4 136.2,171.1 136.6,170.7 137.0,164.3 137.4,160.4 137.8,166.5 138.2,156.9 138.5,157.3 138.9,151.5 139.3,158.0 139.7,157.4 140.1,176.7 140.5,156.6 140.9,167.5 141.3,167.9 141.6,156.6 142.0,166.7 142.4,141.6 142.8,158.7 143.2,164.4 143.6,140.0 144.0,149.2 144.3,165.8 144.7,156.0 145.1,149.6 145.5,155.0 145.9,153.8 146.3,163.2 146.7,161.2 147.1,155.7 147.4,152.7 147.8,157.3 148.2,167.6 148.6,160.3 149.0,162.4 149.4,156.5 149.8,147.9 150.1,152.2 150.5,162.4 150.9,158.2 151.3,150.6 151.7,145.2 152.1,158.2 152.5,154.7 152.9,154.6 153.2,154.7 153.6,159.3 154.0,159.3 154.4,164.3 154.8,164.0 155.2,167.0 155.6,163.0 156.0,154.3 156.3,156.4 156.7,160.4 157.1,154.3 157.5,160.6 157.9,165.1 158.3,150.3 158.7,142.9 159.0,165.0 159.4,156.0 159.8,161.0 160.2,145.6 160.6,168.4 161.0,160.7 161.4,154.0 161.8,152.1 162.1,155.4 162.5,153.1 162.9,152.0 163.3,145.4 163.7,162.8 164.1,152.5 164.5,152.8 164.8,152.2 165.2,133.1 165.6,153.8 166.0,146.5 166.4,145.9 166.8,147.5 167.2,138.7 167.6,151.3 167.9,138.7 168.3,136.0 168.7,135.3 169.1,141.9 169.5,145.1 169.9,133.8 170.3,125.4 170.6,143.2 171.0,125.7 171.4,141.0 171.8,130.1 172.2,123.8 172.6,122.8 173.0,129.8 173.4,132.0 173.7,123.0 174.1,130.9 174.5,138.9 174.9,121.1 175.3,113.6 175.7,113.8 176.1,111.0 176.5,116.3 176.8,115.6 177.2,111.1 177.6,125.2 178.0,102.8 178.4,112.2 178.8,137.9 179.2,131.3 179.5,128.3 179.9,128.7 180.3,139.5 180.7,131.2 181.1,128.8 181.5,120.3 181.9,130.7 182.3,127.7 182.6,130.0 183.0,132.3 183.4,139.8 183.8,140.1 184.2,151.6 184.6,137.6 185.0,148.5 185.3,166.0 185.7,154.7 186.1,166.2 186.5,168.4 186.9,172.6 187.3,170.6 187.7,155.3 188.1,166.7 188.4,167.5 188.8,158.5 189.2,169.4 189.6,163.1 190.0,160.0 190.4,179.2 190.8,177.8 191.1,172.5 191.5,170.8 191.9,175.9 192.3,178.3 192.7,179.0 193.1,183.4 193.5,180.2 193.9,189.2 194.2,191.1 194.6,189.9 195.0,179.9 195.4,180.6 195.8,191.4 196.2,185.0 196.6,186.5 197.0,161.7 197.3,161.6 197.7,190.2 198.1,190.1 198.5,200.7 198.9,193.8 199.3,188.6 199.7,186.4 200.0,171.7 200.4,194.9 200.8,179.7 201.2,190.7 201.6,187.5 202.0,188.1 202.4,194.2 202.8,180.0 203.1,180.9 203.5,176.0 203.9,180.6 204.3,201.2 204.7,180.4 205.1,196.0 205.5,192.2 205.8,191.0 206.2,191.6 206.6,173.0 207.0,186.9 207.4,199.0 207.8,175.7 208.2,182.1 208.6,175.4 208.9,185.4 209.3,171.0 209.7,198.0 210.1,177.7 210.5,165.7 210.9,199.2 211.3,190.7 211.6,185.9 212.0,185.8 212.4,176.6 212.8,177.7 213.2,187.0 213.6,188.8 214.0,188.7 214.4,181.2 214.7,174.1 215.1,176.6 215.5,189.6 215.9,192.7 216.3,174.4 216.7,172.8 217.1,190.1 217.5,184.6 217.8,184.1 218.2,163.5 218.6,172.8 219.0,171.2 219.4,178.3 219.8,158.9 220.2,188.7 220.5,178.7 220.9,179.9 221.3,163.3 221.7,174.8 222.1,188.5 222.5,158.9 222.9,177.8 223.3,181.6 223.6,167.4 224.0,182.5 224.4,170.8 224.8,186.5 225.2,179.3 225.6,176.1 226.0,194.1 226.3,182.1 226.7,186.8 227.1,161.5 227.5,166.9 227.9,181.7 228.3,182.2 228.7,172.6 229.1,180.8 229.4,162.5 229.8,174.9 230.2,161.5 230.6,176.0 231.0,167.8 231.4,166.3 231.8,172.9 232.1,189.8 232.5,162.5 232.9,166.4 233.3,182.2 233.7,168.0 234.1,188.5 234.5,173.9 234.9,172.6 235.2,175.0 235.6,187.7 236.0,177.5 236.4,176.2 236.8,173.7 237.2,157.1 237.6,163.2 238.0,184.6 238.3,178.5 238.7,175.6 239.1,176.7 239.5,166.0 239.9,173.9 240.3,162.7 240.7,174.2 241.0,164.2 241.4,168.7 241.8,174.6 242.2,167.6 242.6,176.3 243.0,174.5 243.4,173.6 243.8,182.3 244.1,157.0 244.5,155.8 244.9,175.8 245.3,178.7 245.7,188.4 246.1,177.0 246.5,177.7 246.8,162.1 247.2,176.9 247.6,176.2 248.0,160.4 248.4,161.8 248.8,169.0 249.2,172.6 249.6,147.1 249.9,170.6 250.3,172.1 250.7,168.4 251.1,172.5 251.5,174.3 251.9,160.8 252.3,174.0 252.6,167.9 253.0,161.5 253.4,172.4 253.8,184.4 254.2,157.0 254.6,155.3 255.0,155.4 255.4,189.6 255.7,168.8 256.1,170.8 256.5,164.1 256.9,162.9 257.3,152.8 257.7,173.8 258.1,174.8 258.5,153.8 258.8,162.9 259.2,166.0 259.6,173.1 260.0,175.9 260.4,184.6 260.8,187.2 261.2,184.7 261.5,187.6 261.9,163.9 262.3,170.1 262.7,186.8 263.1,178.9 263.5,176.8 263.9,158.2 264.3,160.3 264.6,186.5 265.0,183.9 265.4,179.1 265.8,179.3 266.2,168.0 266.6,189.8 267.0,197.6 267.3,204.9 267.7,190.7 268.1,189.4 268.5,182.0 268.9,206.0 269.3,212.2 269.7,191.0 270.1,201.1 270.4,200.3 270.8,194.7 271.2,176.5 271.6,197.4 272.0,206.4 272.4,185.5 272.8,190.1 273.1,172.3 273.5,207.5 273.9,198.2 274.3,192.2 274.7,187.6 275.1,182.5 275.5,186.2 275.9,182.1 276.2,180.8 276.6,181.1 277.0,180.8 277.4,193.1 277.8,162.4 278.2,177.9 278.6,168.4 278.9,162.9 279.3,150.7 279.7,179.5 280.1,163.8 280.5,165.8 280.9,177.5 281.3,162.2 281.7,172.8 282.0,171.7 282.4,180.1 282.8,181.9 283.2,163.5 283.6,180.7 284.0,170.7 284.4,172.7 284.8,169.3 285.1,178.8 285.5,159.3 285.9,173.5 286.3,182.3 286.7,168.0 287.1,190.4 287.5,163.4 287.8,172.6 288.2,165.7 288.6,164.3 289.0,159.3 289.4,164.9 289.8,169.5 290.2,162.1 290.6,178.5 290.9,184.7 291.3,154.9 291.7,177.8 292.1,171.5 292.5,172.0 292.9,193.5 293.3,181.2 293.6,172.7 294.0,171.2 294.4,148.3 294.8,176.9 295.2,162.1 295.6,171.0 296.0,170.2 296.4,178.6 296.7,189.0 297.1,178.8 297.5,181.6 297.9,166.8 298.3,173.5 298.7,176.6 299.1,155.0 299.4,188.9 299.8,162.0 300.2,156.5 300.6,184.9 301.0,189.6 301.4,162.1 301.8,162.9 302.2,193.3 302.5,170.0 302.9,149.5 303.3,162.8 303.7,188.3 304.1,175.2 304.5,176.1 304.9,180.7 305.3,175.3 305.6,165.5 306.0,153.1 306.4,173.0 306.8,157.8 307.2,168.1 307.6,185.8 308.0,173.9 308.3,169.2 308.7,169.2 309.1,175.7 309.5,177.5 309.9,155.7 310.3,170.3 310.7,185.2 311.1,175.8 311.4,161.0 311.8,161.8 312.2,148.3 312.6,160.7 313.0,184.1 313.4,167.7 313.8,160.0 314.1,162.7 314.5,167.3 314.9,167.3 315.3,164.9 315.7,160.8 316.1,174.5 316.5,183.3 316.9,162.7 317.2,163.0 317.6,179.8 318.0,153.9 318.4,162.4 318.8,164.5 319.2,169.8 319.6,165.5 319.9,159.5 320.3,171.2 320.7,156.6 321.1,151.2 321.5,148.4 321.9,175.4 322.3,151.2 322.7,172.5 323.0,174.6 323.4,176.0 323.8,166.4 324.2,162.7 324.6,168.9 325.0,162.3 325.4,155.5 325.8,180.3 326.1,159.3 326.5,185.6 326.9,173.1 327.3,163.6 327.7,172.3 328.1,180.0 328.5,154.6 328.8,159.0 329.2,157.8 329.6,169.6 330.0,172.0 330.4,168.3 330.8,160.9 331.2,162.9 331.6,179.6 331.9,178.9 332.3,169.3 332.7,155.2 333.1,174.1"/>
</g>
<g>
<polyline fill="none" stroke="#000000" stroke-width="1.3" stroke-linejoin="round" points="426.5,126.5 426.9,133.0 427.3,132.3 427.7,123.9 428.0,124.9 428.4,123.8 428.8,129.2 429.2,126.1 429.6,130.1 430.0,117.4 430.4,134.1 430.8,126.0 431.1,129.8 431.5,125.9 431.9,124.7 432.3,128.9 432.7,130.7 433.1,125.7 433.5,125.9 433.8,130.1 434.2,122.5 434.6,119.4 435.0,128.8 435.4,123.6 435.8,117.5 436.2,123.0 436.6,124.7 436.9,121.2 437.3,119.8 437.7,127.4 438.1,131.6 438.5,126.1 438.9,123.7 439.3,129.3 439.6,131.0 440.0,126.1 440.4,130.3 440.8,132.8 441.2,126.7 441.6,123.8 442.0,129.6 442.4,129.2 442.7,133.4 443.1,121.8 443.5,124.9 443.9,124.2 444.3,119.9 444.7,129.1 445.1,131.1 445.4,125.0 445.8,135.5 446.2,132.8 446.6,131.9 447.0,130.9 447.4,133.7 447.8,122.6 448.2,132.3 448.5,132.3 448.9,120.8 449.3,131.3 449.7,128.5 450.1,133.8 450.5,128.0 450.9,130.3 451.2,132.4 451.6,126.8 452.0,134.3 452.4,131.2 452.8,134.5 453.2,129.9 453.6,138.2 454.0,136.2 454.3,132.7 454.7,137.1 455.1,140.5 455.5,143.4 455.9,127.3 456.3,139.6 456.7,137.8 457.0,135.3 457.4,131.0 457.8,142.3 458.2,130.2 458.6,139.4 459.0,143.2 459.4,129.1 459.8,135.7 460.1,130.9 460.5,138.7 460.9,145.1 461.3,147.8 461.7,129.3 462.1,135.4 462.5,141.8 462.8,146.3 463.2,140.7 463.6,135.2 464.0,140.4 464.4,139.0 464.8,138.3 465.2,135.8 465.6,141.5 465.9,141.2 466.3,139.4 466.7,138.9 467.1,133.8 467.5,137.9 467.9,146.3 468.3,139.6 468.6,133.6 469.0,147.4 469.4,143.6 469.8,151.4 470.2,141.5 470.6,139.1 471.0,134.4 471.4,148.1 471.7,154.0 472.1,137.9 472.5,138.9 472.9,145.1 473.3,138.3 473.7,141.2 474.1,141.0 474.4,143.8 474.8,148.4 475.2,143.3 475.6,147.8 476.0,141.4 476.4,145.3 476.8,133.4 477.2,136.9 477.5,148.1 477.9,141.5 478.3,147.4 478.7,147.4 479.1,151.4 479.5,149.1 479.9,150.3 480.2,145.0 480.6,142.3 481.0,142.3 481.4,143.7 481.8,140.8 482.2,143.8 482.6,146.2 483.0,148.1 483.3,145.4 483.7,137.8 484.1,147.1 484.5,148.7 484.9,153.1 485.3,150.7 485.7,144.9 486.0,144.7 486.4,158.2 486.8,152.2 487.2,157.6 487.6,159.2 488.0,144.9 488.4,150.9 488.8,151.3 489.1,151.9 489.5,151.9 489.9,150.3 490.3,150.2 490.7,142.1 491.1,148.7 491.5,145.9 491.8,150.2 492.2,147.4 492.6,152.8 493.0,153.8 493.4,151.4 493.8,151.4 494.2,150.4 494.6,147.8 494.9,149.2 495.3,147.7 495.7,152.0 496.1,150.2 496.5,153.1 496.9,143.7 497.3,154.6 497.6,146.6 498.0,146.7 498.4,149.4 498.8,147.6 499.2,151.8 499.6,147.6 500.0,145.1 500.3,146.2 500.7,156.7 501.1,150.3 501.5,144.1 501.9,149.6 502.3,141.6 502.7,157.6 503.1,140.9 503.4,150.2 503.8,150.0 504.2,139.7 504.6,147.7 505.0,150.5 505.4,147.3 505.8,145.6 506.1,148.3 506.5,143.7 506.9,143.9 507.3,140.9 507.7,143.9 508.1,135.5 508.5,143.3 508.9,136.2 509.2,132.7 509.6,139.2 510.0,145.1 510.4,140.8 510.8,133.0 511.2,138.3 511.6,132.0 511.9,132.9 512.3,133.3 512.7,120.8 513.1,132.4 513.5,125.6 513.9,126.5 514.3,121.9 514.7,120.9 515.0,122.9 515.4,130.7 515.8,133.9 516.2,124.7 516.6,129.2 517.0,121.5 517.4,112.3 517.7,121.3 518.1,121.5 518.5,116.0 518.9,118.3 519.3,118.4 519.7,110.0 520.1,105.7 520.5,110.4 520.8,109.1 521.2,107.0 521.6,112.2 522.0,114.4 522.4,102.5 522.8,106.5 523.2,106.3 523.5,103.8 523.9,104.0 524.3,95.5 524.7,99.5 525.1,104.3 525.5,96.8 525.9,88.3 526.3,92.8 526.6,94.4 527.0,88.4 527.4,82.3 527.8,91.0 528.2,75.7 528.6,82.6 529.0,78.5 529.3,71.0 529.7,81.2 530.1,75.3 530.5,66.0 530.9,72.7 531.3,65.6 531.7,56.4 532.1,60.3 532.4,63.0 532.8,63.0 533.2,59.1 533.6,57.1 534.0,58.1 534.4,53.9 534.8,59.9 535.1,54.1 535.5,54.0 535.9,54.6 536.3,46.2 536.7,47.3 537.1,57.8 537.5,51.6 537.9,48.2 538.2,51.1 538.6,46.8 539.0,50.3 539.4,45.5 539.8,49.9 540.2,40.6 540.6,54.7 540.9,45.6 541.3,40.3 541.7,46.9 542.1,46.1 542.5,48.7 542.9,42.4 543.3,50.0 543.7,60.3 544.0,41.8 544.4,49.8 544.8,46.7 545.2,49.3 545.6,39.5 546.0,42.8 546.4,50.8 546.7,48.5 547.1,56.9 547.5,45.7 547.9,50.3 548.3,62.0 548.7,46.3 549.1,46.0 549.5,50.7 549.8,51.2 550.2,56.1 550.6,53.5 551.0,50.4 551.4,56.7 551.8,69.7 552.2,65.8 552.5,49.5 552.9,63.5 553.3,62.9 553.7,74.2 554.1,75.0 554.5,90.7 554.9,91.6 555.3,97.5 555.6,100.3 556.0,106.3 556.4,116.3 556.8,129.5 557.2,134.7 557.6,139.1 558.0,155.5 558.3,157.9 558.7,163.5 559.1,167.0 559.5,175.0 559.9,181.5 560.3,179.0 560.7,202.5 561.1,206.2 561.4,207.7 561.8,218.6 562.2,219.7 562.6,222.6 563.0,211.6 563.4,225.5 563.8,232.1 564.1,240.0 564.5,243.6 564.9,243.8 565.3,233.1 565.7,229.7 566.1,244.6 566.5,242.8 566.9,247.8 567.2,242.4 567.6,243.7 568.0,234.5 568.4,243.0 568.8,237.4 569.2,239.8 569.6,238.7 569.9,234.0 570.3,234.3 570.7,230.7 571.1,232.5 571.5,229.3 571.9,222.2 572.3,220.2 572.7,229.9 573.0,219.4 573.4,223.2 573.8,218.8 574.2,212.6 574.6,210.1 575.0,212.8 575.4,211.9 575.7,212.0 576.1,201.3 576.5,203.0 576.9,204.0 577.3,210.8 577.7,190.0 578.1,202.4 578.5,196.3 578.8,199.8 579.2,194.2 579.6,197.4 580.0,202.4 580.4,195.6 580.8,195.1 581.2,193.9 581.5,187.6 581.9,193.1 582.3,188.7 582.7,185.1 583.1,188.4 583.5,187.2 583.9,191.8 584.3,187.9 584.6,185.8 585.0,195.9 585.4,194.2 585.8,196.3 586.2,193.9 586.6,191.3 587.0,190.7 587.3,192.5 587.7,199.7 588.1,196.7 588.5,189.9 588.9,198.2 589.3,192.4 589.7,201.3 590.1,195.4 590.4,196.1 590.8,204.1 591.2,204.2 591.6,197.5 592.0,210.8 592.4,219.2 592.8,202.3 593.1,220.2 593.5,208.9 593.9,211.2 594.3,214.1 594.7,208.9 595.1,224.0 595.5,221.0 595.9,215.8 596.2,219.1 596.6,213.6 597.0,220.3 597.4,227.4 597.8,214.2 598.2,221.0 598.6,224.1 598.9,228.6 599.3,230.0 599.7,220.5 600.1,218.7 600.5,224.4 600.9,219.7 601.3,219.5 601.7,226.1 602.0,228.6 602.4,220.6 602.8,217.5 603.2,220.8 603.6,207.2 604.0,216.3 604.4,210.1 604.7,227.5 605.1,218.1 605.5,214.3 605.9,211.6 606.3,198.5 606.7,214.6 607.1,218.4 607.5,204.8 607.8,211.3 608.2,210.4 608.6,197.1 609.0,209.3 609.4,210.5 609.8,203.4 610.2,200.7 610.5,204.3 610.9,190.8 611.3,198.8 611.7,203.2 612.1,190.0 612.5,201.5 612.9,193.1 613.3,183.3 613.6,193.5 614.0,188.1 614.4,194.6 614.8,185.8 615.2,197.4 615.6,187.0 616.0,192.5 616.3,186.7 616.7,187.7 617.1,195.6 617.5,189.7 617.9,185.8 618.3,180.6 618.7,193.7 619.1,190.9 619.4,184.6 619.8,187.4 620.2,179.9 620.6,179.7 621.0,180.4 621.4,186.8 621.8,186.2 622.1,180.0 622.5,188.1 622.9,188.1 623.3,184.3 623.7,189.0 624.1,181.2 624.5,181.9 624.9,185.0 625.2,181.8 625.6,186.3 626.0,174.4 626.4,189.5 626.8,176.6 627.2,179.9 627.6,172.7 627.9,183.9 628.3,187.5 628.7,186.2 629.1,184.6 629.5,170.5 629.9,174.8 630.3,176.5 630.7,173.5 631.0,185.3 631.4,179.6 631.8,178.2 632.2,181.0 632.6,172.5 633.0,172.5 633.4,172.5 633.7,180.4 634.1,179.3 634.5,180.5 634.9,183.3 635.3,168.8 635.7,173.4 636.1,177.3 636.4,168.4 636.8,173.0 637.2,182.0 637.6,182.3 638.0,182.0 638.4,175.8 638.8,174.1 639.2,181.6 639.5,172.9 639.9,176.9 640.3,182.6 640.7,172.5 641.1,170.9 641.5,174.3 641.9,177.7 642.2,176.8 642.6,174.8 643.0,177.0 643.4,164.1 643.8,168.3 644.2,174.2 644.6,167.6 645.0,165.0 645.3,165.7 645.7,167.2 646.1,171.4 646.5,166.3 646.9,173.5 647.3,182.0 647.7,171.0 648.0,179.2 648.4,173.3 648.8,164.9 649.2,169.8 649.6,165.4 650.0,175.5 650.4,164.1 650.8,178.5 651.1,174.0 651.5,158.6 651.9,175.0 652.3,179.4 652.7,165.5 653.1,175.9 653.5,159.4 653.8,171.3 654.2,160.0 654.6,172.5 655.0,159.1 655.4,154.8 655.8,171.7 656.2,182.8 656.6,165.8 656.9,174.1 657.3,169.8 657.7,167.2 658.1,172.6 658.5,178.6 658.9,161.7 659.3,172.2 659.6,170.9 660.0,160.5 660.4,178.3 660.8,180.3 661.2,163.2 661.6,179.0 662.0,169.1 662.4,167.8 662.7,177.6 663.1,170.0 663.5,170.6 663.9,177.6 664.3,176.2 664.7,173.9 665.1,160.4 665.4,159.3 665.8,175.2 666.2,163.1 666.6,169.4 667.0,162.2 667.4,167.4 667.8,161.0 668.2,178.1 668.5,162.5 668.9,167.7 669.3,167.3 669.7,175.5 670.1,160.1 670.5,168.2 670.9,167.1 671.2,171.5 671.6,171.1 672.0,165.6 672.4,169.7 672.8,166.1 673.2,171.0 673.6,167.7 674.0,164.4 674.3,168.1 674.7,170.4 675.1,181.5 675.5,165.3 675.9,170.0 676.3,176.8 676.7,156.0 677.0,157.9 677.4,161.2 677.8,167.5 678.2,182.5 678.6,170.4 679.0,175.2 679.4,166.8 679.8,153.6 680.1,154.5 680.5,174.1 680.9,169.1 681.3,160.4 681.7,174.6 682.1,159.0 682.5,174.7 682.8,176.5 683.2,163.5 683.6,161.5 684.0,172.9 684.4,161.5 684.8,173.0 685.2,160.9 685.6,172.7 685.9,168.5 686.3,165.4 686.7,162.7 687.1,169.3 687.5,156.8 687.9,166.3 688.3,165.6 688.6,171.9 689.0,160.5 689.4,178.0 689.8,166.0 690.2,161.2 690.6,176.0 691.0,177.6 691.4,166.7 691.7,162.6 692.1,167.9 692.5,163.8 692.9,166.0 693.3,177.0 693.7,170.1 694.1,168.7 694.4,169.8 694.8,167.5 695.2,172.7 695.6,173.0 696.0,165.6 696.4,168.4 696.8,182.0 697.2,170.3 697.5,166.7 697.9,179.8 698.3,167.8 698.7,161.3 699.1,171.7 699.5,162.5 699.9,164.8 700.2,169.7 700.6,167.0 701.0,163.3 701.4,164.5 701.8,164.3 702.2,174.6 702.6,163.5 703.0,164.4 703.3,179.7 703.7,164.5 704.1,176.5 704.5,175.5"/>
<polyline fill="none" stroke="#ff0000" stroke-width="1.3" stroke-linejoin="round" points="426.5,128.0 426.9,133.1 427.3,131.6 427.7,131.6 428.0,136.0 428.4,122.1 428.8,125.0 429.2,121.6 429.6,127.6 430.0,133.0 430.4,128.0 430.8,130.6 431.1,118.8 431.5,128.9 431.9,123.8 432.3,136.9 432.7,132.6 433.1,133.0 433.5,128.0 433.8,131.4 434.2,131.6 434.6,126.8 435.0,126.0 435.4,128.0 435.8,125.6 436.2,125.7 436.6,127.3 436.9,125.1 437.3,132.5 437.7,121.0 438.1,132.9 438.5,125.9 438.9,126.3 439.3,122.4 439.6,128.4 440.0,127.9 440.4,130.2 440.8,126.7 441.2,129.8 441.6,138.3 442.0,131.5 442.4,126.7 442.7,134.3 443.1,129.1 443.5,132.7 443.9,132.9 444.3,128.0 444.7,120.5 445.1,128.4 445.4,132.9 445.8,128.4 446.2,132.5 446.6,135.2 447.0,127.9 447.4,136.6 447.8,138.6 448.2,136.1 448.5,136.6 448.9,136.4 449.3,142.1 449.7,132.2 450.1,131.4 450.5,134.6 450.9,127.5 451.2,124.6 451.6,128.2 452.0,134.7 452.4,135.5 452.8,126.0 453.2,124.7 453.6,132.7 454.0,133.7 454.3,134.7 454.7,138.6 455.1,141.7 455.5,137.1 455.9,139.3 456.3,131.2 456.7,131.0 457.0,138.2 457.4,140.5 457.8,141.0 458.2,140.5 458.6,141.7 459.0,142.0 459.4,129.6 459.8,134.8 460.1,140.8 460.5,141.6 460.9,131.5 461.3,144.8 461.7,137.0 462.1,138.2 462.5,140.8 462.8,143.3 463.2,132.8 463.6,144.8 464.0,140.5 464.4,136.5 464.8,139.0 465.2,129.8 465.6,137.5 465.9,141.7 466.3,137.5 466.7,139.5 467.1,140.5 467.5,141.6 467.9,146.5 468.3,141.5 468.6,140.5 469.0,144.5 469.4,152.2 469.8,140.4 470.2,144.8 470.6,134.7 471.0,149.1 471.4,145.9 471.7,149.3 472.1,142.6 472.5,138.0 472.9,147.5 473.3,147.0 473.7,139.2 474.1,136.4 474.4,146.0 474.8,143.1 475.2,156.3 475.6,141.2 476.0,141.8 476.4,144.0 476.8,136.6 477.2,140.6 477.5,153.2 477.9,144.6 478.3,142.5 478.7,139.4 479.1,148.7 479.5,149.2 479.9,147.4 480.2,144.5 480.6,148.1 481.0,148.6 481.4,143.6 481.8,150.2 482.2,136.9 482.6,141.2 483.0,146.2 483.3,147.3 483.7,142.3 484.1,149.8 484.5,153.5 484.9,150.7 485.3,149.7 485.7,152.9 486.0,150.9 486.4,143.5 486.8,148.2 487.2,155.7 487.6,143.9 488.0,149.9 488.4,147.8 488.8,145.4 489.1,144.9 489.5,150.4 489.9,151.5 490.3,151.6 490.7,143.0 491.1,148.7 491.5,151.9 491.8,154.9 492.2,153.6 492.6,154.5 493.0,155.8 493.4,154.5 493.8,146.6 494.2,150.9 494.6,147.1 494.9,139.0 495.3,142.5 495.7,161.0 496.1,145.3 496.5,139.9 496.9,148.0 497.3,158.3 497.6,150.7 498.0,152.9 498.4,149.6 498.8,150.6 499.2,157.2 499.6,154.9 500.0,150.6 500.3,155.3 500.7,156.1 501.1,149.6 501.5,151.8 501.9,151.5 502.3,146.6 502.7,155.2 503.1,148.3 503.4,145.6 503.8,139.9 504.2,141.4 504.6,154.5 505.0,140.9 505.4,147.9 505.8,143.4 506.1,147.1 506.5,146.8 506.9,139.4 507.3,141.1 507.7,142.3 508.1,141.7 508.5,140.4 508.9,138.3 509.2,142.3 509.6,145.0 510.0,140.6 510.4,133.7 510.8,138.7 511.2,136.5 511.6,137.8 511.9,143.9 512.3,133.2 512.7,133.5 513.1,128.5 513.5,130.7 513.9,128.6 514.3,138.5 514.7,131.4 515.0,126.3 515.4,137.7 515.8,120.9 516.2,130.7 516.6,130.6 517.0,127.4 517.4,122.3 517.7,121.8 518.1,119.6 518.5,124.0 518.9,107.5 519.3,115.2 519.7,117.2 520.1,112.3 520.5,104.9 520.8,111.3 521.2,107.5 521.6,113.7 522.0,115.3 522.4,107.5 522.8,96.3 523.2,103.5 523.5,98.5 523.9,105.0 524.3,108.6 524.7,100.4 525.1,107.4 525.5,103.4 525.9,97.9 526.3,88.8 526.6,92.5 527.0,83.4 527.4,94.1 527.8,88.1 528.2,92.7 528.6,85.9 529.0,73.4 529.3,84.5 529.7,84.4 530.1,86.4 530.5,71.7 530.9,70.1 531.3,73.0 531.7,65.5 532.1,62.0 532.4,61.5 532.8,76.7 533.2,60.4 533.6,57.2 534.0,58.9 534.4,60.2 534.8,65.7 535.1,63.3 535.5,61.8 535.9,57.5 536.3,57.5 536.7,53.1 537.1,48.4 537.5,65.4 537.9,52.8 538.2,59.8 538.6,53.1 539.0,54.0 539.4,53.4 539.8,47.3 540.2,53.5 540.6,55.6 540.9,57.7 541.3,55.9 541.7,58.5 542.1,54.9 542.5,53.4 542.9,43.8 543.3,50.9 543.7,61.1 544.0,54.2 544.4,57.5 544.8,52.6 545.2,50.5 545.6,63.9 546.0,55.7 546.4,61.3 546.7,56.7 547.1,52.9 547.5,43.5 547.9,55.2 548.3,47.4 548.7,44.5 549.1,61.9 549.5,59.8 549.8,59.8 550.2,57.5 550.6,58.0 551.0,61.4 551.4,61.5 551.8,62.9 552.2,68.1 552.5,54.6 552.9,73.3 553.3,68.7 553.7,79.7 554.1,85.8 554.5,81.1 554.9,94.7 555.3,100.4 555.6,99.0 556.0,106.7 556.4,117.6 556.8,114.4 557.2,131.6 557.6,143.1 558.0,148.0 558.3,149.6 558.7,162.0 559.1,177.8 559.5,183.2 559.9,182.3 560.3,185.0 560.7,194.6 561.1,200.1 561.4,201.5 561.8,207.5 562.2,215.9 562.6,220.3 563.0,206.5 563.4,225.9 563.8,224.3 564.1,231.7 564.5,228.2 564.9,232.5 565.3,240.2 565.7,221.4 566.1,242.6 566.5,236.5 566.9,227.0 567.2,223.7 567.6,237.1 568.0,229.9 568.4,238.9 568.8,233.9 569.2,230.8 569.6,234.8 569.9,229.2 570.3,230.2 570.7,228.9 571.1,224.6 571.5,225.1 571.9,223.3 572.3,211.1 572.7,214.9 573.0,214.3 573.4,211.7 573.8,204.4 574.2,208.0 574.6,211.0 575.0,208.8 575.4,213.9 575.7,202.1 576.1,201.5 576.5,199.4 576.9,199.3 577.3,196.6 577.7,189.1 578.1,198.7 578.5,200.7 578.8,200.2 579.2,188.4 579.6,191.9 580.0,201.1 580.4,190.7 580.8,192.1 581.2,188.9 581.5,193.8 581.9,192.9 582.3,198.9 582.7,189.4 583.1,188.7 583.5,180.2 583.9,184.0 584.3,182.6 584.6,184.6 585.0,180.2 585.4,193.1 585.8,182.6 586.2,189.9 586.6,183.2 587.0,192.0 587.3,199.4 587.7,188.2 588.1,195.1 588.5,194.0 588.9,196.7 589.3,198.4 589.7,194.1 590.1,197.2 590.4,196.1 590.8,195.9 591.2,194.9 591.6,206.9 592.0,199.6 592.4,207.8 592.8,208.4 593.1,201.9 593.5,213.4 593.9,205.0 594.3,213.6 594.7,218.9 595.1,209.0 595.5,209.0 595.9,209.8 596.2,227.1 596.6,214.3 597.0,210.4 597.4,221.5 597.8,216.8 598.2,217.8 598.6,212.9 598.9,206.5 599.3,214.0 599.7,212.1 600.1,208.9 600.5,211.2 600.9,211.5 601.3,220.1 601.7,219.0 602.0,217.5 602.4,211.4 602.8,207.0 603.2,214.5 603.6,214.7 604.0,216.9 604.4,210.8 604.7,209.7 605.1,211.4 605.5,204.1 605.9,204.0 606.3,210.9 606.7,199.9 607.1,205.2 607.5,208.9 607.8,205.0 608.2,205.0 608.6,195.8 609.0,200.0 609.4,198.2 609.8,202.0 610.2,200.1 610.5,197.1 610.9,206.3 611.3,198.2 611.7,193.0 612.1,190.6 612.5,193.1 612.9,189.6 613.3,201.0 613.6,194.6 614.0,189.3 614.4,186.8 614.8,183.9 615.2,187.8 615.6,196.1 616.0,193.0 616.3,187.5 616.7,188.1 617.1,176.6 617.5,190.7 617.9,184.8 618.3,193.4 618.7,184.3 619.1,182.2 619.4,185.8 619.8,180.7 620.2,191.6 620.6,185.4 621.0,185.6 621.4,185.1 621.8,181.0 622.1,185.4 622.5,183.4 622.9,192.2 623.3,182.3 623.7,183.8 624.1,178.9 624.5,179.1 624.9,179.3 625.2,188.3 625.6,181.1 626.0,186.1 626.4,178.8 626.8,178.0 627.2,168.8 627.6,184.5 627.9,191.4 628.3,178.0 628.7,187.4 629.1,183.9 629.5,174.8 629.9,183.0 630.3,173.2 630.7,176.5 631.0,185.2 631.4,178.8 631.8,170.9 632.2,185.8 632.6,171.0 633.0,176.3 633.4,175.1 633.7,176.0 634.1,171.8 634.5,167.0 634.9,187.3 635.3,170.8 635.7,171.0 636.1,161.7 636.4,176.4 636.8,183.3 637.2,183.8 637.6,189.5 638.0,184.1 638.4,177.6 638.8,175.2 639.2,183.3 639.5,174.6 639.9,175.8 640.3,168.9 640.7,175.0 641.1,185.8 641.5,173.7 641.9,176.3 642.2,159.7 642.6,181.6 643.0,175.7 643.4,181.6 643.8,174.6 644.2,168.0 644.6,164.9 645.0,175.7 645.3,172.4 645.7,166.6 646.1,171.8 646.5,168.3 646.9,176.1 647.3,169.3 647.7,164.3 648.0,170.8 648.4,167.9 648.8,179.7 649.2,168.1 649.6,162.9 650.0,170.2 650.4,168.8 650.8,171.8 651.1,171.3 651.5,163.8 651.9,169.5 652.3,169.0 652.7,162.5 653.1,166.0 653.5,170.4 653.8,159.8 654.2,162.7 654.6,166.2 655.0,168.3 655.4,171.7 655.8,160.6 656.2,170.2 656.6,172.1 656.9,177.4 657.3,165.8 657.7,162.8 658.1,159.1 658.5,171.4 658.9,175.7 659.3,164.0 659.6,170.7 660.0,173.1 660.4,173.7 660.8,165.8 661.2,171.9 661.6,167.9 662.0,162.7 662.4,169.8 662.7,170.4 663.1,162.7 663.5,171.0 663.9,180.1 664.3,159.6 664.7,172.5 665.1,173.7 665.4,168.7 665.8,170.3 666.2,166.8 666.6,176.3 667.0,162.8 667.4,167.4 667.8,156.8 668.2,170.0 668.5,170.3 668.9,158.2 669.3,162.9 669.7,170.8 670.1,165.1 670.5,160.8 670.9,153.4 671.2,169.9 671.6,179.2 672.0,165.1 672.4,170.3 672.8,170.2 673.2,167.2 673.6,168.2 674.0,168.3 674.3,162.5 674.7,182.3 675.1,182.6 675.5,169.4 675.9,178.1 676.3,162.8 676.7,166.2 677.0,174.2 677.4,160.8 677.8,159.9 678.2,169.6 678.6,155.9 679.0,177.7 679.4,172.0 679.8,169.0 680.1,171.6 680.5,162.2 680.9,162.0 681.3,172.8 681.7,173.5 682.1,168.6 682.5,167.4 682.8,164.0 683.2,177.6 683.6,156.8 684.0,161.1 684.4,163.4 684.8,155.3 685.2,156.6 685.6,158.8 685.9,176.5 686.3,183.8 686.7,170.8 687.1,152.8 687.5,162.0 687.9,166.4 688.3,165.1 688.6,164.2 689.0,172.4 689.4,149.5 689.8,162.3 690.2,169.6 690.6,174.3 691.0,170.3 691.4,167.8 691.7,166.4 692.1,161.5 692.5,168.5 692.9,165.8 693.3,161.2 693.7,179.0 694.1,178.9 694.4,164.4 694.8,173.6 695.2,179.0 695.6,170.3 696.0,169.1 696.4,172.5 696.8,152.5 697.2,154.6 697.5,172.8 697.9,170.5 698.3,180.6 698.7,163.4 699.1,177.4 699.5,176.6 699.9,183.2 700.2,162.0 700.6,165.4 701.0,169.6 701.4,169.4 701.8,161.9 702.2,164.5 702.6,160.2 703.0,181.4 703.3,167.4 703.7,167.7 704.1,164.2 704.5,168.0"/>
<polyline fill="none" stroke="#0000ff" stroke-width="1.3" stroke-linejoin="round" points="426.5,142.0 426.9,120.8 427.3,137.7 427.7,133.4 428.0,139.5 428.4,134.9 428.8,142.0 429.2,133.2 429.6,130.6 430.0,135.9 430.4,135.2 430.8,131.4 431.1,132.0 431.5,136.7 431.9,136.7 432.3,130.8 432.7,131.5 433.1,124.5 433.5,141.6 433.8,132.3 434.2,140.0 434.6,135.5 435.0,143.0 435.4,141.1 435.8,135.1 436.2,140.9 436.6,129.0 436.9,139.9 437.3,126.5 437.7,135.5 438.1,139.1 438.5,135.0 438.9,132.2 439.3,130.1 439.6,132.4 440.0,139.3 440.4,138.6 440.8,133.0 441.2,128.3 441.6,137.7 442.0,127.4 442.4,132.0 442.7,131.1 443.1,138.4 443.5,136.0 443.9,137.1 444.3,136.3 444.7,131.7 445.1,137.7 445.4,142.1 445.8,135.1 446.2,138.5 446.6,134.8 447.0,140.6 447.4,138.9 447.8,140.0 448.2,137.5 448.5,143.9 448.9,134.2 449.3,134.4 449.7,133.3 450.1,139.4 450.5,133.5 450.9,133.6 451.2,140.6 451.6,143.0 452.0,140.4 452.4,125.6 452.8,133.4 453.2,133.1 453.6,132.8 454.0,137.0 454.3,148.2 454.7,138.1 455.1,136.2 455.5,143.5 455.9,140.7 456.3,141.2 456.7,137.5 457.0,141.0 457.4,143.3 457.8,132.0 458.2,133.7 458.6,147.1 459.0,146.0 459.4,139.6 459.8,137.3 460.1,141.5 460.5,136.7 460.9,141.1 461.3,151.0 461.7,143.7 462.1,148.9 462.5,142.3 462.8,145.3 463.2,150.5 463.6,137.3 464.0,142.3 464.4,143.3 464.8,145.6 465.2,152.0 465.6,147.9 465.9,137.3 466.3,143.5 466.7,140.6 467.1,140.6 467.5,155.1 467.9,140.1 468.3,146.6 468.6,142.1 469.0,150.0 469.4,147.6 469.8,146.6 470.2,145.8 470.6,151.8 471.0,141.8 471.4,142.9 471.7,141.2 472.1,153.3 472.5,145.4 472.9,141.9 473.3,145.1 473.7,159.5 474.1,146.8 474.4,151.7 474.8,149.9 475.2,147.7 475.6,144.5 476.0,146.4 476.4,146.4 476.8,137.4 477.2,160.6 477.5,153.0 477.9,149.2 478.3,147.8 478.7,145.1 479.1,153.7 479.5,148.3 479.9,151.7 480.2,142.7 480.6,151.5 481.0,159.6 481.4,148.5 481.8,154.0 482.2,150.4 482.6,155.8 483.0,155.8 483.3,151.0 483.7,148.1 484.1,152.4 484.5,151.3 484.9,148.2 485.3,153.6 485.7,153.7 486.0,147.3 486.4,151.3 486.8,164.2 487.2,156.1 487.6,152.7 488.0,164.6 488.4,150.2 488.8,140.4 489.1,143.4 489.5,145.4 489.9,154.2 490.3,157.8 490.7,142.5 491.1,158.7 491.5,147.3 491.8,154.7 492.2,155.8 492.6,155.7 493.0,153.7 493.4,154.5 493.8,148.2 494.2,155.2 494.6,158.7 494.9,158.4 495.3,166.2 495.7,159.3 496.1,157.5 496.5,162.1 496.9,155.2 497.3,147.7 497.6,143.0 498.0,160.2 498.4,156.8 498.8,158.1 499.2,152.3 499.6,155.6 500.0,163.1 500.3,155.5 500.7,148.3 501.1,151.6 501.5,160.5 501.9,148.3 502.3,141.3 502.7,142.3 503.1,146.9 503.4,157.3 503.8,153.7 504.2,149.5 504.6,146.8 505.0,152.4 505.4,152.1 505.8,149.8 506.1,151.0 506.5,148.0 506.9,160.1 507.3,139.1 507.7,150.6 508.1,144.4 508.5,152.1 508.9,146.8 509.2,149.1 509.6,149.2 510.0,147.0 510.4,150.2 510.8,137.9 511.2,148.7 511.6,142.3 511.9,144.6 512.3,149.7 512.7,146.9 513.1,150.4 513.5,128.9 513.9,134.5 514.3,143.2 514.7,132.2 515.0,136.1 515.4,144.5 515.8,139.7 516.2,129.9 516.6,136.0 517.0,136.1 517.4,132.4 517.7,130.8 518.1,131.1 518.5,122.1 518.9,129.2 519.3,123.0 519.7,128.7 520.1,127.9 520.5,120.5 520.8,126.8 521.2,124.4 521.6,121.4 522.0,123.9 522.4,117.7 522.8,116.6 523.2,117.1 523.5,115.2 523.9,119.9 524.3,101.4 524.7,110.3 525.1,100.8 525.5,106.9 525.9,109.5 526.3,107.2 526.6,110.8 527.0,106.4 527.4,91.6 527.8,97.0 528.2,108.9 528.6,107.8 529.0,99.5 529.3,90.4 529.7,107.7 530.1,85.9 530.5,97.0 530.9,94.6 531.3,95.5 531.7,88.1 532.1,91.3 532.4,98.1 532.8,90.0 533.2,85.2 533.6,91.6 534.0,91.8 534.4,90.5 534.8,87.2 535.1,93.7 535.5,90.5 535.9,85.3 536.3,92.2 536.7,90.9 537.1,91.8 537.5,82.7 537.9,87.3 538.2,93.4 538.6,95.7 539.0,92.9 539.4,92.0 539.8,94.8 540.2,96.1 540.6,100.0 540.9,93.7 541.3,88.7 541.7,93.9 542.1,82.0 542.5,91.9 542.9,89.5 543.3,91.6 543.7,94.2 544.0,92.1 544.4,84.8 544.8,90.2 545.2,88.1 545.6,92.0 546.0,93.9 546.4,87.5 546.7,95.9 547.1,98.8 547.5,91.1 547.9,96.1 548.3,85.3 548.7,90.0 549.1,97.5 549.5,84.2 549.8,90.5 550.2,88.7 550.6,99.0 551.0,99.6 551.4,91.7 551.8,96.3 552.2,84.5 552.5,102.2 552.9,101.2 553.3,107.5 553.7,90.9 554.1,106.2 554.5,105.5 554.9,98.8 555.3,112.2 555.6,120.5 556.0,130.3 556.4,132.9 556.8,134.8 557.2,144.6 557.6,147.5 558.0,151.0 558.3,155.6 558.7,167.8 559.1,174.1 559.5,188.3 559.9,182.4 560.3,197.1 560.7,194.6 561.1,201.0 561.4,192.7 561.8,194.6 562.2,199.1 562.6,206.6 563.0,204.6 563.4,208.8 563.8,208.0 564.1,212.7 564.5,209.6 564.9,207.0 565.3,212.9 565.7,211.5 566.1,220.1 566.5,211.1 566.9,212.5 567.2,210.5 567.6,217.5 568.0,215.9 568.4,214.4 568.8,204.6 569.2,202.8 569.6,210.8 569.9,212.4 570.3,215.3 570.7,198.5 571.1,205.6 571.5,197.3 571.9,200.0 572.3,202.7 572.7,207.6 573.0,199.4 573.4,197.6 573.8,198.7 574.2,205.6 574.6,210.6 575.0,190.5 575.4,196.0 575.7,194.6 576.1,201.7 576.5,197.3 576.9,201.9 577.3,188.6 577.7,192.8 578.1,189.7 578.5,185.7 578.8,189.5 579.2,183.7 579.6,199.3 580.0,190.0 580.4,182.2 580.8,183.5 581.2,194.2 581.5,182.8 581.9,187.9 582.3,186.8 582.7,188.8 583.1,186.1 583.5,181.6 583.9,179.5 584.3,173.4 584.6,181.8 585.0,182.7 585.4,180.3 585.8,181.4 586.2,176.3 586.6,193.2 587.0,180.3 587.3,178.0 587.7,180.5 588.1,183.0 588.5,187.9 588.9,172.6 589.3,187.6 589.7,182.4 590.1,185.0 590.4,191.4 590.8,190.6 591.2,183.8 591.6,187.2 592.0,197.4 592.4,195.2 592.8,193.1 593.1,189.3 593.5,194.5 593.9,192.2 594.3,187.9 594.7,186.2 595.1,194.4 595.5,194.2 595.9,198.9 596.2,190.8 596.6,200.8 597.0,192.3 597.4,201.0 597.8,197.7 598.2,192.3 598.6,190.7 598.9,195.1 599.3,194.6 599.7,200.8 600.1,192.5 600.5,188.3 600.9,195.7 601.3,205.6 601.7,203.9 602.0,191.8 602.4,193.3 602.8,196.0 603.2,190.4 603.6,192.2 604.0,191.5 604.4,187.0 604.7,188.7 605.1,188.9 605.5,192.2 605.9,184.2 606.3,190.5 606.7,184.2 607.1,184.7 607.5,182.6 607.8,201.5 608.2,194.5 608.6,194.7 609.0,191.5 609.4,185.5 609.8,186.7 610.2,187.5 610.5,188.0 610.9,188.5 611.3,193.2 611.7,170.9 612.1,181.1 612.5,187.5 612.9,181.5 613.3,182.2 613.6,190.9 614.0,183.4 614.4,191.8 614.8,181.4 615.2,182.6 615.6,175.1 616.0,169.7 616.3,178.1 616.7,180.4 617.1,177.9 617.5,172.0 617.9,182.9 618.3,179.4 618.7,178.8 619.1,174.2 619.4,187.6 619.8,186.4 620.2,179.6 620.6,177.1 621.0,179.0 621.4,187.0 621.8,191.3 622.1,177.1 622.5,174.4 622.9,166.4 623.3,190.8 623.7,170.1 624.1,181.2 624.5,178.9 624.9,183.6 625.2,170.8 625.6,166.3 626.0,176.3 626.4,177.7 626.8,181.8 627.2,165.4 627.6,172.3 627.9,173.3 628.3,166.9 628.7,173.6 629.1,179.1 629.5,174.1 629.9,165.8 630.3,176.1 630.7,179.0 631.0,177.0 631.4,178.4 631.8,164.0 632.2,176.2 632.6,176.9 633.0,171.1 633.4,172.9 633.7,168.6 634.1,180.2 634.5,171.2 634.9,167.3 635.3,173.8 635.7,173.3 636.1,176.4 636.4,167.5 636.8,168.3 637.2,174.5 637.6,185.3 638.0,174.8 638.4,163.9 638.8,172.8 639.2,167.1 639.5,160.7 639.9,167.5 640.3,168.1 640.7,173.8 641.1,179.0 641.5,177.8 641.9,175.8 642.2,168.4 642.6,171.8 643.0,170.5 643.4,178.9 643.8,166.7 644.2,167.2 644.6,179.2 645.0,173.6 645.3,167.5 645.7,171.0 646.1,170.8 646.5,171.0 646.9,174.5 647.3,171.8 647.7,168.5 648.0,166.5 648.4,159.2 648.8,166.7 649.2,175.9 649.6,170.4 650.0,165.1 650.4,167.5 650.8,163.8 651.1,170.4 651.5,180.4 651.9,179.2 652.3,175.5 652.7,173.0 653.1,166.9 653.5,160.9 653.8,168.2 654.2,165.4 654.6,172.9 655.0,168.8 655.4,164.4 655.8,170.4 656.2,182.3 656.6,162.3 656.9,174.2 657.3,171.0 657.7,166.8 658.1,162.9 658.5,167.4 658.9,168.5 659.3,171.7 659.6,171.3 660.0,168.9 660.4,163.0 660.8,168.7 661.2,164.2 661.6,160.7 662.0,172.1 662.4,162.9 662.7,159.7 663.1,167.2 663.5,155.3 663.9,166.2 664.3,169.2 664.7,164.1 665.1,168.0 665.4,179.2 665.8,174.9 666.2,172.0 666.6,170.0 667.0,163.4 667.4,165.6 667.8,164.7 668.2,166.6 668.5,167.1 668.9,161.6 669.3,175.8 669.7,160.2 670.1,168.4 670.5,172.4 670.9,166.1 671.2,162.3 671.6,166.4 672.0,177.6 672.4,169.9 672.8,164.5 673.2,169.6 673.6,165.0 674.0,155.1 674.3,167.5 674.7,172.2 675.1,172.9 675.5,165.7 675.9,157.7 676.3,173.1 676.7,165.1 677.0,170.3 677.4,172.6 677.8,168.0 678.2,165.6 678.6,162.2 679.0,163.4 679.4,166.1 679.8,163.2 680.1,168.0 680.5,154.4 680.9,159.9 681.3,165.6 681.7,161.7 682.1,162.6 682.5,159.1 682.8,169.7 683.2,175.3 683.6,159.8 684.0,172.5 684.4,157.1 684.8,166.5 685.2,153.9 685.6,168.5 685.9,165.8 686.3,166.4 686.7,172.8 687.1,169.1 687.5,165.4 687.9,160.7 688.3,165.8 688.6,161.5 689.0,163.0 689.4,174.2 689.8,170.6 690.2,167.2 690.6,169.2 691.0,157.0 691.4,166.1 691.7,155.5 692.1,161.5 692.5,167.6 692.9,167.6 693.3,169.5 693.7,166.3 694.1,165.6 694.4,165.3 694.8,173.6 695.2,172.9 695.6,156.7 696.0,166.0 696.4,172.8 696.8,163.7 697.2,166.5 697.5,161.6 697.9,158.1 698.3,165.9 698.7,162.7 699.1,164.1 699.5,156.5 699.9,158.2 700.2,164.2 700.6,162.3 701.0,168.1 701.4,158.7 701.8,169.0 702.2,168.1 702.6,165.3 703.0,168.5 703.3,164.2 703.7,163.5 704.1,164.5 704.5,157.2"/>
<polyline fill="none" stroke="#ff00ff" stroke-width="1.3" stroke-linejoin="round" points="426.5,132.4 426.9,124.2 427.3,121.3 427.7,116.8 428.0,127.3 428.4,135.1 428.8,129.2 429.2,131.5 429.6,134.1 430.0,124.7 430.4,141.3 430.8,124.8 431.1,130.9 431.5,141.4 431.9,128.6 432.3,129.7 432.7,126.7 433.1,130.8 433.5,118.8 433.8,126.1 434.2,137.5 434.6,130.3 435.0,128.1 435.4,131.2 435.8,131.4 436.2,130.1 436.6,132.2 436.9,121.3 437.3,132.4 437.7,126.2 438.1,133.4 438.5,129.5 438.9,124.7 439.3,129.3 439.6,124.8 440.0,134.7 440.4,129.6 440.8,134.0 441.2,124.4 441.6,137.8 442.0,128.5 442.4,136.7 442.7,134.2 443.1,124.7 443.5,131.7 443.9,127.5 444.3,132.3 444.7,137.3 445.1,133.7 445.4,135.7 445.8,124.7 446.2,131.5 446.6,132.4 447.0,136.0 447.4,127.7 447.8,133.6 448.2,133.0 448.5,123.4 448.9,125.9 449.3,133.3 449.7,125.5 450.1,125.4 450.5,136.0 450.9,133.3 451.2,131.1 451.6,133.1 452.0,131.0 452.4,130.7 452.8,131.4 453.2,136.0 453.6,141.0 454.0,132.6 454.3,134.9 454.7,134.5 455.1,129.7 455.5,137.5 455.9,140.7 456.3,132.6 456.7,141.0 457.0,134.2 457.4,142.8 457.8,143.2 458.2,135.4 458.6,127.6 459.0,135.7 459.4,130.7 459.8,131.1 460.1,136.4 460.5,144.4 460.9,137.3 461.3,136.7 461.7,128.8 462.1,134.9 462.5,131.1 462.8,140.6 463.2,135.5 463.6,137.9 464.0,138.1 464.4,137.3 464.8,142.9 465.2,140.6 465.6,136.7 465.9,139.1 466.3,141.1 466.7,145.2 467.1,139.1 467.5,145.6 467.9,135.7 468.3,137.5 468.6,131.4 469.0,142.8 469.4,133.8 469.8,133.9 470.2,143.2 470.6,136.5 471.0,135.5 471.4,144.0 471.7,138.5 472.1,144.1 472.5,137.7 472.9,143.3 473.3,145.2 473.7,140.4 474.1,149.0 474.4,138.3 474.8,139.4 475.2,141.0 475.6,145.6 476.0,139.4 476.4,138.9 476.8,142.4 477.2,147.4 477.5,139.4 477.9,135.4 478.3,141.2 478.7,145.0 479.1,139.5 479.5,142.9 479.9,133.3 480.2,142.8 480.6,143.4 481.0,146.1 481.4,144.7 481.8,147.2 482.2,138.7 482.6,147.0 483.0,135.9 483.3,141.2 483.7,149.8 484.1,148.7 484.5,135.7 484.9,147.8 485.3,143.0 485.7,141.5 486.0,146.6 486.4,146.5 486.8,152.9 487.2,139.3 487.6,144.5 488.0,146.2 488.4,138.2 488.8,153.2 489.1,156.4 489.5,145.0 489.9,150.2 490.3,147.4 490.7,150.3 491.1,146.0 491.5,153.7 491.8,144.2 492.2,156.9 492.6,152.2 493.0,162.6 493.4,142.9 493.8,150.8 494.2,145.2 494.6,151.1 494.9,154.2 495.3,147.7 495.7,145.4 496.1,144.1 496.5,153.9 496.9,159.2 497.3,158.8 497.6,153.4 498.0,148.7 498.4,151.7 498.8,146.3 499.2,146.1 499.6,159.1 500.0,152.7 500.3,155.7 500.7,152.9 501.1,160.9 501.5,161.5 501.9,150.8 502.3,152.9 502.7,151.5 503.1,161.3 503.4,161.0 503.8,153.5 504.2,166.2 504.6,155.1 505.0,149.0 505.4,145.0 505.8,154.2 506.1,156.3 506.5,151.6 506.9,156.0 507.3,159.8 507.7,153.3 508.1,157.3 508.5,160.9 508.9,154.8 509.2,149.1 509.6,153.6 510.0,153.7 510.4,161.1 510.8,148.1 511.2,142.2 511.6,150.9 511.9,150.6 512.3,146.5 512.7,150.9 513.1,149.2 513.5,153.1 513.9,142.6 514.3,142.8 514.7,145.6 515.0,142.7 515.4,150.9 515.8,147.0 516.2,143.5 516.6,150.5 517.0,145.0 517.4,146.8 517.7,145.3 518.1,140.1 518.5,139.5 518.9,139.7 519.3,133.7 519.7,136.8 520.1,142.1 520.5,138.8 520.8,132.1 521.2,147.6 521.6,130.4 522.0,137.8 522.4,137.6 522.8,139.7 523.2,128.5 523.5,132.2 523.9,130.4 524.3,136.3 524.7,131.8 525.1,131.3 525.5,131.2 525.9,137.4 526.3,130.4 526.6,130.7 527.0,121.1 527.4,128.4 527.8,118.1 528.2,128.2 528.6,123.6 529.0,117.8 529.3,115.8 529.7,120.3 530.1,120.6 530.5,116.5 530.9,116.9 531.3,116.1 531.7,114.1 532.1,114.9 532.4,116.2 532.8,120.3 533.2,116.2 533.6,109.4 534.0,119.3 534.4,116.4 534.8,108.6 535.1,114.2 535.5,106.0 535.9,104.5 536.3,104.3 536.7,115.5 537.1,108.2 537.5,109.0 537.9,107.7 538.2,105.4 538.6,109.7 539.0,110.6 539.4,116.8 539.8,103.0 540.2,114.7 540.6,110.4 540.9,98.6 541.3,111.8 541.7,114.9 542.1,112.3 542.5,108.2 542.9,107.7 543.3,97.2 543.7,108.5 544.0,107.7 544.4,102.3 544.8,107.8 545.2,103.5 545.6,117.8 546.0,100.7 546.4,102.3 546.7,96.1 547.1,104.6 547.5,107.1 547.9,106.5 548.3,103.3 548.7,110.7 549.1,107.6 549.5,112.3 549.8,106.1 550.2,98.3 550.6,106.6 551.0,102.9 551.4,112.4 551.8,106.0 552.2,108.5 552.5,110.5 552.9,104.0 553.3,110.5 553.7,117.7 554.1,111.7 554.5,115.5 554.9,119.8 555.3,118.9 555.6,124.5 556.0,132.2 556.4,132.3 556.8,138.4 557.2,141.3 557.6,141.3 558.0,145.0 558.3,166.3 558.7,168.7 559.1,166.6 559.5,176.8 559.9,182.0 560.3,185.1 560.7,181.6 561.1,178.3 561.4,180.5 561.8,186.9 562.2,196.0 562.6,198.3 563.0,190.6 563.4,191.3 563.8,199.8 564.1,204.9 564.5,191.1 564.9,198.6 565.3,197.6 565.7,195.8 566.1,196.2 566.5,196.4 566.9,198.1 567.2,190.6 567.6,198.0 568.0,201.7 568.4,201.3 568.8,201.1 569.2,198.5 569.6,197.4 569.9,205.5 570.3,194.6 570.7,195.6 571.1,200.4 571.5,193.8 571.9,186.7 572.3,189.7 572.7,189.6 573.0,190.3 573.4,188.3 573.8,194.7 574.2,192.7 574.6,191.1 575.0,186.2 575.4,192.7 575.7,192.0 576.1,197.3 576.5,183.0 576.9,184.8 577.3,191.5 577.7,178.8 578.1,184.7 578.5,183.8 578.8,182.4 579.2,176.8 579.6,181.0 580.0,172.9 580.4,185.3 580.8,176.5 581.2,179.1 581.5,177.7 581.9,178.2 582.3,177.4 582.7,178.5 583.1,174.3 583.5,175.9 583.9,170.1 584.3,170.2 584.6,171.0 585.0,170.2 585.4,168.4 585.8,172.2 586.2,178.4 586.6,177.6 587.0,173.7 587.3,177.6 587.7,178.1 588.1,188.9 588.5,169.2 588.9,178.6 589.3,171.2 589.7,184.3 590.1,177.4 590.4,181.0 590.8,180.2 591.2,183.0 591.6,167.2 592.0,174.4 592.4,180.9 592.8,174.2 593.1,183.9 593.5,187.7 593.9,175.4 594.3,180.1 594.7,185.8 595.1,192.1 595.5,188.5 595.9,187.5 596.2,179.8 596.6,184.6 597.0,185.5 597.4,182.1 597.8,187.5 598.2,184.1 598.6,183.6 598.9,196.8 599.3,185.3 599.7,195.8 600.1,184.2 600.5,185.8 600.9,179.7 601.3,183.0 601.7,194.0 602.0,185.8 602.4,175.2 602.8,192.7 603.2,180.4 603.6,182.6 604.0,184.3 604.4,174.4 604.7,192.1 605.1,190.4 605.5,181.6 605.9,184.9 606.3,181.3 606.7,179.3 607.1,180.9 607.5,174.2 607.8,179.4 608.2,178.2 608.6,191.1 609.0,172.8 609.4,187.2 609.8,184.0 610.2,180.7 610.5,176.4 610.9,189.2 611.3,187.0 611.7,178.7 612.1,177.6 612.5,179.4 612.9,188.1 613.3,172.9 613.6,178.1 614.0,183.5 614.4,169.5 614.8,176.4 615.2,182.7 615.6,173.9 616.0,175.4 616.3,167.3 616.7,177.7 617.1,168.8 617.5,173.0 617.9,176.8 618.3,171.6 618.7,179.4 619.1,178.4 619.4,176.9 619.8,179.6 620.2,173.0 620.6,161.7 621.0,178.5 621.4,177.9 621.8,170.7 622.1,168.6 622.5,179.7 622.9,170.4 623.3,170.8 623.7,170.3 624.1,186.0 624.5,168.5 624.9,158.2 625.2,171.6 625.6,166.2 626.0,161.9 626.4,172.4 626.8,168.5 627.2,176.5 627.6,169.4 627.9,178.0 628.3,176.7 628.7,171.1 629.1,175.3 629.5,181.2 629.9,174.7 630.3,162.4 630.7,171.0 631.0,171.7 631.4,177.6 631.8,169.6 632.2,176.8 632.6,169.4 633.0,170.3 633.4,168.7 633.7,170.0 634.1,169.0 634.5,171.8 634.9,165.3 635.3,163.5 635.7,169.0 636.1,170.3 636.4,167.0 636.8,171.6 637.2,171.1 637.6,178.9 638.0,160.5 638.4,180.5 638.8,155.2 639.2,158.4 639.5,170.1 639.9,162.9 640.3,166.6 640.7,165.6 641.1,160.5 641.5,160.0 641.9,165.7 642.2,169.9 642.6,171.2 643.0,168.6 643.4,165.7 643.8,174.4 644.2,154.7 644.6,167.5 645.0,174.7 645.3,176.6 645.7,174.1 646.1,174.9 646.5,173.0 646.9,167.7 647.3,153.8 647.7,163.9 648.0,165.2 648.4,175.9 648.8,164.1 649.2,164.5 649.6,170.4 650.0,160.8 650.4,166.6 650.8,169.6 651.1,164.4 651.5,165.8 651.9,155.8 652.3,158.8 652.7,164.5 653.1,172.6 653.5,162.5 653.8,160.4 654.2,161.0 654.6,169.4 655.0,157.2 655.4,166.4 655.8,163.3 656.2,165.7 656.6,160.9 656.9,165.8 657.3,173.1 657.7,163.5 658.1,162.2 658.5,151.4 658.9,167.8 659.3,161.2 659.6,167.1 660.0,165.5 660.4,160.2 660.8,161.0 661.2,156.9 661.6,176.4 662.0,170.2 662.4,169.6 662.7,171.7 663.1,172.8 663.5,169.7 663.9,170.7 664.3,179.2 664.7,154.7 665.1,165.9 665.4,161.1 665.8,165.1 666.2,150.7 666.6,158.4 667.0,169.5 667.4,157.4 667.8,168.0 668.2,159.9 668.5,163.8 668.9,155.9 669.3,161.2 669.7,155.9 670.1,168.0 670.5,154.6 670.9,166.7 671.2,161.6 671.6,163.8 672.0,173.2 672.4,163.3 672.8,161.1 673.2,164.9 673.6,169.0 674.0,161.7 674.3,174.9 674.7,165.9 675.1,162.8 675.5,161.1 675.9,164.1 676.3,168.2 676.7,171.1 677.0,165.4 677.4,161.5 677.8,164.7 678.2,152.7 678.6,171.5 679.0,169.9 679.4,163.9 679.8,169.1 680.1,159.3 680.5,175.7 680.9,164.5 681.3,162.9 681.7,177.8 682.1,160.3 682.5,168.5 682.8,161.3 683.2,163.1 683.6,164.7 684.0,163.0 684.4,174.9 684.8,172.8 685.2,163.1 685.6,179.5 685.9,166.1 686.3,165.3 686.7,168.7 687.1,160.3 687.5,174.2 687.9,161.0 688.3,158.9 688.6,172.4 689.0,160.8 689.4,164.6 689.8,158.9 690.2,163.3 690.6,166.5 691.0,151.8 691.4,165.3 691.7,160.9 692.1,173.8 692.5,177.4 692.9,168.6 693.3,168.9 693.7,171.6 694.1,171.6 694.4,157.0 694.8,157.6 695.2,162.3 695.6,157.0 696.0,163.1 696.4,165.6 696.8,160.3 697.2,167.7 697.5,173.3 697.9,165.2 698.3,167.4 698.7,164.6 699.1,164.3 699.5,161.8 699.9,158.2 700.2,168.0 700.6,171.1 701.0,164.4 701.4,165.3 701.8,156.7 702.2,163.3 702.6,166.4 703.0,164.0 703.3,164.9 703.7,158.7 704.1,157.2 704.5,163.1"/>
<polyline fill="none" stroke="#008000" stroke-width="1.3" stroke-linejoin="round" points="426.5,114.0 426.9,116.4 427.3,122.9 427.7,118.4 428.0,123.6 428.4,125.0 428.8,113.9 429.2,126.0 429.6,118.1 430.0,131.3 430.4,124.6 430.8,118.4 431.1,122.0 431.5,122.1 431.9,122.7 432.3,127.9 432.7,123.7 433.1,129.2 433.5,124.2 433.8,120.2 434.2,113.6 434.6,113.5 435.0,122.1 435.4,124.5 435.8,128.2 436.2,118.2 436.6,121.6 436.9,117.2 437.3,119.1 437.7,110.1 438.1,124.9 438.5,117.7 438.9,120.9 439.3,123.5 439.6,123.0 440.0,114.9 440.4,128.8 440.8,125.1 441.2,123.8 441.6,118.2 442.0,113.6 442.4,113.5 442.7,120.5 443.1,122.3 443.5,118.1 443.9,130.5 444.3,123.1 444.7,126.5 445.1,126.1 445.4,116.4 445.8,126.6 446.2,124.0 446.6,115.6 447.0,125.4 447.4,127.1 447.8,126.7 448.2,127.1 448.5,115.0 448.9,120.8 449.3,119.4 449.7,122.5 450.1,123.0 450.5,128.3 450.9,126.8 451.2,119.4 451.6,128.3 452.0,132.3 452.4,126.3 452.8,117.9 453.2,122.6 453.6,125.4 454.0,118.7 454.3,126.4 454.7,121.1 455.1,131.5 455.5,131.2 455.9,127.6 456.3,121.9 456.7,129.5 457.0,125.0 457.4,124.8 457.8,133.7 458.2,124.5 458.6,121.5 459.0,132.2 459.4,137.1 459.8,136.3 460.1,132.2 460.5,138.7 460.9,126.7 461.3,139.1 461.7,138.8 462.1,126.8 462.5,130.5 462.8,122.2 463.2,123.5 463.6,131.3 464.0,122.9 464.4,129.6 464.8,130.9 465.2,129.3 465.6,133.4 465.9,138.3 466.3,129.6 466.7,133.7 467.1,136.2 467.5,126.6 467.9,125.6 468.3,117.0 468.6,131.1 469.0,134.2 469.4,131.2 469.8,139.4 470.2,136.7 470.6,133.2 471.0,129.1 471.4,125.1 471.7,130.0 472.1,132.1 472.5,129.4 472.9,128.3 473.3,128.1 473.7,133.5 474.1,121.9 474.4,128.8 474.8,130.9 475.2,134.1 475.6,134.3 476.0,129.9 476.4,128.4 476.8,125.6 477.2,137.3 477.5,134.6 477.9,132.9 478.3,128.5 478.7,126.7 479.1,138.1 479.5,132.5 479.9,135.0 480.2,141.7 480.6,125.5 481.0,129.4 481.4,135.1 481.8,136.5 482.2,128.4 482.6,133.3 483.0,130.8 483.3,131.1 483.7,135.9 484.1,135.1 484.5,140.0 484.9,137.3 485.3,141.8 485.7,130.5 486.0,136.7 486.4,127.8 486.8,126.7 487.2,128.1 487.6,138.6 488.0,136.2 488.4,127.3 488.8,141.9 489.1,140.4 489.5,134.9 489.9,134.8 490.3,136.1 490.7,130.4 491.1,148.1 491.5,134.6 491.8,136.2 492.2,135.8 492.6,134.5 493.0,133.6 493.4,140.0 493.8,132.6 494.2,133.9 494.6,135.4 494.9,143.6 495.3,135.1 495.7,135.3 496.1,142.1 496.5,135.1 496.9,139.3 497.3,145.4 497.6,143.2 498.0,141.5 498.4,149.0 498.8,139.5 499.2,138.7 499.6,133.2 500.0,142.1 500.3,145.1 500.7,138.8 501.1,151.5 501.5,147.4 501.9,147.0 502.3,136.7 502.7,144.2 503.1,144.8 503.4,133.1 503.8,143.3 504.2,142.5 504.6,135.4 505.0,146.6 505.4,154.6 505.8,148.5 506.1,141.0 506.5,144.3 506.9,151.4 507.3,142.2 507.7,148.4 508.1,147.2 508.5,148.4 508.9,156.1 509.2,141.1 509.6,154.9 510.0,151.1 510.4,150.0 510.8,142.8 511.2,153.1 511.6,150.0 511.9,140.2 512.3,146.0 512.7,147.0 513.1,148.0 513.5,149.9 513.9,148.6 514.3,160.2 514.7,157.5 515.0,151.6 515.4,158.5 515.8,161.7 516.2,153.3 516.6,143.9 517.0,151.9 517.4,156.6 517.7,144.3 518.1,148.8 518.5,153.1 518.9,153.9 519.3,151.8 519.7,149.1 520.1,146.1 520.5,143.5 520.8,150.8 521.2,149.9 521.6,142.5 522.0,141.0 522.4,150.1 522.8,148.4 523.2,139.2 523.5,134.4 523.9,142.6 524.3,145.6 524.7,145.9 525.1,144.7 525.5,132.7 525.9,140.0 526.3,137.5 526.6,135.3 527.0,150.7 527.4,138.0 527.8,138.8 528.2,135.6 528.6,140.0 529.0,141.9 529.3,134.3 529.7,135.1 530.1,132.6 530.5,129.3 530.9,133.0 531.3,135.1 531.7,133.0 532.1,131.1 532.4,122.6 532.8,132.9 533.2,131.6 533.6,137.8 534.0,126.5 534.4,122.3 534.8,119.1 535.1,124.9 535.5,127.2 535.9,128.3 536.3,118.8 536.7,123.3 537.1,130.6 537.5,125.5 537.9,123.1 538.2,122.6 538.6,116.3 539.0,116.8 539.4,120.7 539.8,129.0 540.2,128.4 540.6,121.7 540.9,125.3 541.3,124.0 541.7,127.3 542.1,117.9 542.5,122.4 542.9,125.5 543.3,114.5 543.7,120.1 544.0,121.4 544.4,122.0 544.8,122.3 545.2,122.5 545.6,124.4 546.0,126.1 546.4,121.0 546.7,129.9 547.1,116.7 547.5,118.0 547.9,120.6 548.3,115.2 548.7,111.8 549.1,112.7 549.5,125.0 549.8,116.2 550.2,113.1 550.6,129.1 551.0,122.0 551.4,121.4 551.8,116.0 552.2,122.4 552.5,119.0 552.9,123.1 553.3,122.3 553.7,122.4 554.1,125.9 554.5,122.1 554.9,126.4 555.3,126.7 555.6,134.7 556.0,138.5 556.4,141.8 556.8,131.9 557.2,153.9 557.6,148.7 558.0,153.8 558.3,158.8 558.7,163.2 559.1,173.8 559.5,171.9 559.9,175.7 560.3,181.2 560.7,185.3 561.1,176.0 561.4,176.9 561.8,175.2 562.2,176.8 562.6,188.7 563.0,188.4 563.4,188.2 563.8,190.5 564.1,190.7 564.5,195.4 564.9,198.3 565.3,186.3 565.7,197.8 566.1,195.9 566.5,186.9 566.9,191.9 567.2,188.9 567.6,182.8 568.0,191.2 568.4,182.8 568.8,190.8 569.2,185.1 569.6,188.2 569.9,193.3 570.3,189.4 570.7,184.4 571.1,188.9 571.5,190.5 571.9,191.2 572.3,181.8 572.7,190.8 573.0,183.8 573.4,181.4 573.8,189.3 574.2,186.1 574.6,185.9 575.0,182.8 575.4,172.9 575.7,183.6 576.1,183.6 576.5,179.9 576.9,188.3 577.3,180.2 577.7,187.5 578.1,184.5 578.5,175.0 578.8,173.8 579.2,175.9 579.6,176.8 580.0,180.0 580.4,173.3 580.8,170.7 581.2,186.0 581.5,175.3 581.9,176.3 582.3,183.1 582.7,174.9 583.1,162.7 583.5,176.2 583.9,170.6 584.3,178.4 584.6,164.6 585.0,174.3 585.4,177.3 585.8,180.3 586.2,178.2 586.6,178.1 587.0,173.6 587.3,173.6 587.7,169.0 588.1,178.8 588.5,182.0 588.9,177.5 589.3,170.4 589.7,168.0 590.1,172.6 590.4,183.2 590.8,176.5 591.2,171.1 591.6,174.4 592.0,180.5 592.4,173.3 592.8,174.5 593.1,174.4 593.5,172.9 593.9,187.4 594.3,174.0 594.7,179.7 595.1,184.6 595.5,178.4 595.9,177.2 596.2,178.8 596.6,179.9 597.0,179.1 597.4,178.2 597.8,178.7 598.2,181.5 598.6,190.1 598.9,179.1 599.3,185.4 599.7,180.4 600.1,176.5 600.5,175.5 600.9,183.0 601.3,174.6 601.7,183.5 602.0,179.4 602.4,189.7 602.8,175.5 603.2,186.4 603.6,187.8 604.0,184.7 604.4,177.5 604.7,181.9 605.1,180.6 605.5,178.9 605.9,184.2 606.3,178.9 606.7,180.4 607.1,184.6 607.5,178.1 607.8,176.6 608.2,179.4 608.6,175.4 609.0,165.6 609.4,175.0 609.8,176.7 610.2,171.1 610.5,167.2 610.9,179.5 611.3,173.3 611.7,180.2 612.1,179.1 612.5,184.7 612.9,179.4 613.3,181.0 613.6,183.4 614.0,173.9 614.4,181.6 614.8,182.0 615.2,165.4 615.6,169.2 616.0,175.7 616.3,184.2 616.7,172.7 617.1,167.3 617.5,165.5 617.9,175.8 618.3,175.1 618.7,170.2 619.1,175.3 619.4,171.4 619.8,179.8 620.2,165.4 620.6,170.5 621.0,179.3 621.4,169.4 621.8,168.0 622.1,171.1 622.5,183.1 622.9,174.1 623.3,180.5 623.7,167.2 624.1,171.2 624.5,176.2 624.9,173.6 625.2,169.0 625.6,159.3 626.0,175.0 626.4,176.1 626.8,174.5 627.2,162.0 627.6,163.4 627.9,168.1 628.3,165.5 628.7,177.4 629.1,164.9 629.5,169.3 629.9,164.7 630.3,161.0 630.7,176.7 631.0,171.8 631.4,166.8 631.8,170.9 632.2,158.1 632.6,179.8 633.0,164.6 633.4,159.4 633.7,164.3 634.1,171.7 634.5,170.4 634.9,174.2 635.3,174.3 635.7,170.4 636.1,176.1 636.4,159.4 636.8,172.7 637.2,172.7 637.6,171.9 638.0,168.9 638.4,166.6 638.8,166.2 639.2,159.7 639.5,166.6 639.9,175.8 640.3,177.9 640.7,166.5 641.1,166.1 641.5,166.2 641.9,168.3 642.2,169.1 642.6,171.8 643.0,177.3 643.4,157.0 643.8,162.5 644.2,165.9 644.6,168.2 645.0,170.9 645.3,178.8 645.7,163.0 646.1,172.1 646.5,167.8 646.9,168.6 647.3,169.9 647.7,173.1 648.0,168.7 648.4,161.5 648.8,170.6 649.2,170.6 649.6,158.6 650.0,170.2 650.4,167.1 650.8,166.5 651.1,167.9 651.5,177.5 651.9,157.5 652.3,168.2 652.7,156.2 653.1,167.1 653.5,172.3 653.8,156.3 654.2,173.5 654.6,169.5 655.0,166.0 655.4,165.6 655.8,166.5 656.2,166.9 656.6,166.3 656.9,172.6 657.3,171.1 657.7,161.2 658.1,172.7 658.5,177.1 658.9,175.8 659.3,168.1 659.6,157.1 660.0,163.3 660.4,165.6 660.8,165.8 661.2,157.6 661.6,169.8 662.0,171.5 662.4,158.3 662.7,161.8 663.1,160.3 663.5,166.4 663.9,172.9 664.3,154.0 664.7,175.4 665.1,172.0 665.4,158.6 665.8,175.8 666.2,173.2 666.6,169.4 667.0,168.2 667.4,160.9 667.8,169.1 668.2,161.4 668.5,166.6 668.9,172.3 669.3,164.0 669.7,162.4 670.1,169.2 670.5,171.7 670.9,171.9 671.2,164.8 671.6,174.2 672.0,175.7 672.4,164.1 672.8,169.5 673.2,155.5 673.6,165.0 674.0,159.8 674.3,166.7 674.7,162.2 675.1,152.1 675.5,169.4 675.9,159.8 676.3,172.7 676.7,174.3 677.0,169.2 677.4,165.2 677.8,167.1 678.2,157.3 678.6,166.2 679.0,171.3 679.4,169.8 679.8,159.5 680.1,174.5 680.5,168.6 680.9,160.0 681.3,168.2 681.7,160.0 682.1,162.6 682.5,165.7 682.8,176.3 683.2,179.5 683.6,156.5 684.0,165.0 684.4,164.4 684.8,169.1 685.2,167.4 685.6,161.7 685.9,167.1 686.3,161.4 686.7,160.3 687.1,168.4 687.5,166.2 687.9,161.6 688.3,168.9 688.6,162.7 689.0,160.5 689.4,164.3 689.8,168.6 690.2,161.4 690.6,173.4 691.0,163.5 691.4,166.6 691.7,169.5 692.1,164.9 692.5,161.2 692.9,163.7 693.3,170.4 693.7,172.2 694.1,168.6 694.4,162.2 694.8,159.2 695.2,161.5 695.6,162.1 696.0,166.2 696.4,164.7 696.8,160.3 697.2,168.9 697.5,160.6 697.9,165.3 698.3,160.5 698.7,170.9 699.1,167.2 699.5,166.0 699.9,171.3 700.2,170.4 700.6,157.4 701.0,166.0 701.4,158.8 701.8,161.4 702.2,162.3 702.6,156.5 703.0,157.6 703.3,165.3 703.7,165.4 704.1,167.8 704.5,163.9"/>
</g>
<rect x="27.4" y="2.0" width="333.1" height="267.8" fill="none" stroke="#464646" stroke-width="1.4"/>
<line x1="27.4" y1="269.8" x2="360.5" y2="269.8" stroke="#333" stroke-width="1.2"/>
<line x1="27.4" y1="269.8" x2="27.4" y2="273.0" stroke="#464646" stroke-width="1.3"/>
<line x1="55.2" y1="269.8" x2="55.2" y2="275.1" stroke="#464646" stroke-width="1.3"/>
<text x="55.2" y="288.3" text-anchor="middle" class="t">280</text>
<line x1="82.9" y1="269.8" x2="82.9" y2="273.0" stroke="#464646" stroke-width="1.3"/>
<line x1="110.7" y1="269.8" x2="110.7" y2="275.1" stroke="#464646" stroke-width="1.3"/>
<text x="110.7" y="288.3" text-anchor="middle" class="t">300</text>
<line x1="138.4" y1="269.8" x2="138.4" y2="273.0" stroke="#464646" stroke-width="1.3"/>
<line x1="166.2" y1="269.8" x2="166.2" y2="275.1" stroke="#464646" stroke-width="1.3"/>
<text x="166.2" y="288.3" text-anchor="middle" class="t">320</text>
<line x1="194.0" y1="269.8" x2="194.0" y2="273.0" stroke="#464646" stroke-width="1.3"/>
<line x1="221.7" y1="269.8" x2="221.7" y2="275.1" stroke="#464646" stroke-width="1.3"/>
<text x="221.7" y="288.3" text-anchor="middle" class="t">340</text>
<line x1="249.5" y1="269.8" x2="249.5" y2="273.0" stroke="#464646" stroke-width="1.3"/>
<line x1="277.2" y1="269.8" x2="277.2" y2="275.1" stroke="#464646" stroke-width="1.3"/>
<text x="277.2" y="288.3" text-anchor="middle" class="t">360</text>
<line x1="305.0" y1="269.8" x2="305.0" y2="273.0" stroke="#464646" stroke-width="1.3"/>
<line x1="332.7" y1="269.8" x2="332.7" y2="275.1" stroke="#464646" stroke-width="1.3"/>
<text x="332.7" y="288.3" text-anchor="middle" class="t">380</text>
<line x1="360.5" y1="269.8" x2="360.5" y2="273.0" stroke="#464646" stroke-width="1.3"/>
<text transform="translate(193.9,310.1) scale(1,0.93)" text-anchor="middle" class="yl"><tspan font-style="italic">B</tspan> / mT</text>
<text transform="translate(14.3,129.3) rotate(-90)" text-anchor="middle" class="yl">EPR Intesity (arb.u.)</text>
<text transform="translate(0.8,16.7) scale(1,1.08)" class="pl">(a)</text>
<rect x="398.7" y="2.0" width="333.3" height="267.8" fill="none" stroke="#464646" stroke-width="1.4"/>
<line x1="398.7" y1="269.8" x2="732.0" y2="269.8" stroke="#333" stroke-width="1.2"/>
<line x1="398.7" y1="269.8" x2="398.7" y2="273.0" stroke="#464646" stroke-width="1.3"/>
<line x1="426.5" y1="269.8" x2="426.5" y2="275.1" stroke="#464646" stroke-width="1.3"/>
<text x="426.5" y="288.3" text-anchor="middle" class="t">280</text>
<line x1="454.2" y1="269.8" x2="454.2" y2="273.0" stroke="#464646" stroke-width="1.3"/>
<line x1="482.0" y1="269.8" x2="482.0" y2="275.1" stroke="#464646" stroke-width="1.3"/>
<text x="482.0" y="288.3" text-anchor="middle" class="t">300</text>
<line x1="509.8" y1="269.8" x2="509.8" y2="273.0" stroke="#464646" stroke-width="1.3"/>
<line x1="537.6" y1="269.8" x2="537.6" y2="275.1" stroke="#464646" stroke-width="1.3"/>
<text x="537.6" y="288.3" text-anchor="middle" class="t">320</text>
<line x1="565.4" y1="269.8" x2="565.4" y2="273.0" stroke="#464646" stroke-width="1.3"/>
<line x1="593.1" y1="269.8" x2="593.1" y2="275.1" stroke="#464646" stroke-width="1.3"/>
<text x="593.1" y="288.3" text-anchor="middle" class="t">340</text>
<line x1="620.9" y1="269.8" x2="620.9" y2="273.0" stroke="#464646" stroke-width="1.3"/>
<line x1="648.7" y1="269.8" x2="648.7" y2="275.1" stroke="#464646" stroke-width="1.3"/>
<text x="648.7" y="288.3" text-anchor="middle" class="t">360</text>
<line x1="676.5" y1="269.8" x2="676.5" y2="273.0" stroke="#464646" stroke-width="1.3"/>
<line x1="704.2" y1="269.8" x2="704.2" y2="275.1" stroke="#464646" stroke-width="1.3"/>
<text x="704.2" y="288.3" text-anchor="middle" class="t">380</text>
<line x1="732.0" y1="269.8" x2="732.0" y2="273.0" stroke="#464646" stroke-width="1.3"/>
<text transform="translate(564.4,310.1) scale(1,0.93)" text-anchor="middle" class="yl"><tspan font-style="italic">B</tspan> / mT</text>
<text transform="translate(387.3,129.3) rotate(-90)" text-anchor="middle" class="yl">EPR Intesity (arb.u.)</text>
<text transform="translate(371.3,16.7) scale(1,1.08)" class="pl">(b)</text>
<line x1="176" y1="11.7" x2="176" y2="27.799999999999997" stroke="#111" stroke-width="1.2"/><polygon points="173.4,25.599999999999998 178.6,25.599999999999998 176,33.3" fill="#111"/><text x="180.6" y="23.2" class="an">cathodic reduction</text>
<line x1="541.8" y1="14.2" x2="541.8" y2="30.299999999999997" stroke="#111" stroke-width="1.2"/><polygon points="539.1999999999999,28.099999999999998 544.4,28.099999999999998 541.8,35.8" fill="#111"/><text x="546.6" y="25.7" class="an">cathodic reduction</text>
</svg>
</body></html>
